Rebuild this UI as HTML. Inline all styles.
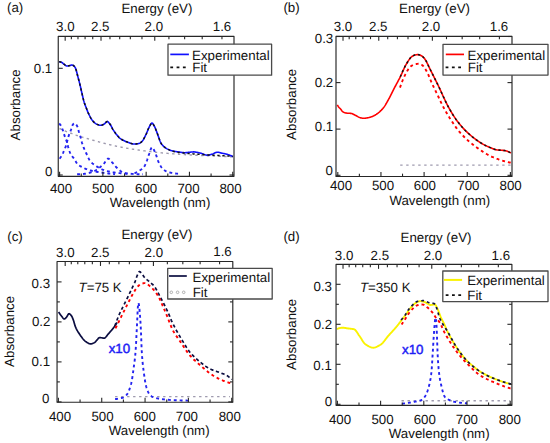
<!DOCTYPE html>
<html><head><meta charset="utf-8"><style>
html,body{margin:0;padding:0;background:#fff;width:550px;height:443px;overflow:hidden;position:relative}
</style></head><body>
<svg width="550" height="443" viewBox="0 0 550 443" style="position:absolute;left:0;top:0">
<g font-family='"Liberation Sans", sans-serif' stroke-linejoin="round" text-rendering="geometricPrecision">
<path d="M 59.50,128.50 L 60.00,128.75 L 60.50,128.99 L 61.00,129.23 L 61.50,129.46 L 62.00,129.69 L 62.50,129.92 L 63.00,130.15 L 63.50,130.37 L 64.00,130.59 L 64.50,130.80 L 65.00,131.01 L 65.50,131.22 L 66.00,131.42 L 66.50,131.62 L 67.00,131.81 L 67.50,132.00 L 68.00,132.18 L 68.50,132.36 L 69.00,132.54 L 69.50,132.71 L 70.00,132.89 L 70.50,133.06 L 71.00,133.24 L 71.50,133.42 L 72.00,133.60 L 72.50,133.79 L 73.00,133.98 L 73.50,134.18 L 74.00,134.37 L 74.50,134.57 L 75.00,134.77 L 75.50,134.96 L 76.00,135.16 L 76.50,135.34 L 77.00,135.52 L 77.50,135.70 L 78.00,135.87 L 78.50,136.03 L 79.00,136.18 L 79.50,136.33 L 80.00,136.48 L 80.50,136.62 L 81.00,136.76 L 81.50,136.90 L 82.00,137.05 L 82.50,137.19 L 83.00,137.33 L 83.50,137.47 L 84.00,137.62 L 84.50,137.76 L 85.00,137.91 L 85.50,138.05 L 86.00,138.19 L 86.50,138.34 L 87.00,138.48 L 87.50,138.62 L 88.00,138.77 L 88.50,138.91 L 89.00,139.06 L 89.50,139.20 L 90.00,139.34 L 90.50,139.49 L 91.00,139.63 L 91.50,139.78 L 92.00,139.92 L 92.50,140.07 L 93.00,140.21 L 93.50,140.36 L 94.00,140.50 L 94.50,140.64 L 95.00,140.79 L 95.50,140.93 L 96.00,141.07 L 96.50,141.21 L 97.00,141.35 L 97.50,141.49 L 98.00,141.63 L 98.50,141.77 L 99.00,141.91 L 99.50,142.05 L 100.00,142.18 L 100.50,142.32 L 101.00,142.45 L 101.50,142.59 L 102.00,142.72 L 102.50,142.85 L 103.00,142.98 L 103.50,143.11 L 104.00,143.24 L 104.50,143.37 L 105.00,143.50 L 105.50,143.63 L 106.00,143.75 L 106.50,143.88 L 107.00,144.00 L 107.50,144.12 L 108.00,144.24 L 108.50,144.36 L 109.00,144.48 L 109.50,144.60 L 110.00,144.72 L 110.50,144.84 L 111.00,144.95 L 111.50,145.07 L 112.00,145.18 L 112.50,145.30 L 113.00,145.42 L 113.50,145.53 L 114.00,145.65 L 114.50,145.76 L 115.00,145.88 L 115.50,145.99 L 116.00,146.10 L 116.50,146.21 L 117.00,146.32 L 117.50,146.43 L 118.00,146.54 L 118.50,146.64 L 119.00,146.74 L 119.50,146.84 L 120.00,146.94 L 120.50,147.03 L 121.00,147.13 L 121.50,147.22 L 122.00,147.31 L 122.50,147.41 L 123.00,147.50 L 123.50,147.59 L 124.00,147.68 L 124.50,147.77 L 125.00,147.87 L 125.50,147.96 L 126.00,148.05 L 126.50,148.14 L 127.00,148.23 L 127.50,148.32 L 128.00,148.41 L 128.50,148.50 L 129.00,148.58 L 129.50,148.67 L 130.00,148.75 L 130.50,148.83 L 131.00,148.91 L 131.50,148.99 L 132.00,149.07 L 132.50,149.15 L 133.00,149.23 L 133.50,149.30 L 134.00,149.38 L 134.50,149.46 L 135.00,149.53 L 135.50,149.61 L 136.00,149.68 L 136.50,149.75 L 137.00,149.83 L 137.50,149.90 L 138.00,149.97 L 138.50,150.04 L 139.00,150.11 L 139.50,150.18 L 140.00,150.25 L 140.50,150.32 L 141.00,150.39 L 141.50,150.46 L 142.00,150.53 L 142.50,150.60 L 143.00,150.66 L 143.50,150.73 L 144.00,150.79 L 144.50,150.86 L 145.00,150.92 L 145.50,150.99 L 146.00,151.05 L 146.50,151.11 L 147.00,151.18 L 147.50,151.24 L 148.00,151.30 L 148.50,151.36 L 149.00,151.42 L 149.50,151.49 L 150.00,151.55 L 150.50,151.61 L 151.00,151.67 L 151.50,151.73 L 152.00,151.79 L 152.50,151.86 L 153.00,151.92 L 153.50,151.98 L 154.00,152.04 L 154.50,152.10 L 155.00,152.15 L 155.50,152.21 L 156.00,152.27 L 156.50,152.33 L 157.00,152.38 L 157.50,152.44 L 158.00,152.49 L 158.50,152.55 L 159.00,152.60 L 159.50,152.65 L 160.00,152.70 L 160.50,152.75 L 161.00,152.80 L 161.50,152.84 L 162.00,152.89 L 162.50,152.94 L 163.00,152.98 L 163.50,153.02 L 164.00,153.07 L 164.50,153.11 L 165.00,153.15 L 165.50,153.19 L 166.00,153.24 L 166.50,153.28 L 167.00,153.32 L 167.50,153.36 L 168.00,153.40 L 168.50,153.44 L 169.00,153.48 L 169.50,153.52 L 170.00,153.57 L 170.50,153.61 L 171.00,153.65 L 171.50,153.69 L 172.00,153.73 L 172.50,153.78 L 173.00,153.82 L 173.50,153.87 L 174.00,153.91 L 174.50,153.96 L 175.00,154.00 L 175.50,154.04 L 176.00,154.09 L 176.50,154.13 L 177.00,154.16 L 177.50,154.20 L 178.00,154.23 L 178.50,154.27 L 179.00,154.30 L 179.50,154.33 L 180.00,154.36 L 180.50,154.40 L 181.00,154.43 L 181.50,154.46 L 182.00,154.49 L 182.50,154.52 L 183.00,154.55 L 183.50,154.58 L 184.00,154.60 L 184.50,154.63 L 185.00,154.66 L 185.50,154.69 L 186.00,154.71 L 186.50,154.74 L 187.00,154.77 L 187.50,154.79 L 188.00,154.82 L 188.50,154.85 L 189.00,154.87 L 189.50,154.90 L 190.00,154.92 L 190.50,154.95 L 191.00,154.97 L 191.50,155.00 L 192.00,155.02 L 192.50,155.04 L 193.00,155.07 L 193.50,155.09 L 194.00,155.12 L 194.50,155.14 L 195.00,155.16 L 195.50,155.19 L 196.00,155.21 L 196.50,155.23 L 197.00,155.26 L 197.50,155.28 L 198.00,155.31 L 198.50,155.33 L 199.00,155.35 L 199.50,155.38 L 200.00,155.40 L 200.50,155.42 L 201.00,155.45 L 201.50,155.47 L 202.00,155.49 L 202.50,155.52 L 203.00,155.54 L 203.50,155.57 L 204.00,155.59 L 204.50,155.61 L 205.00,155.63 L 205.50,155.66 L 206.00,155.68 L 206.50,155.70 L 207.00,155.73 L 207.50,155.75 L 208.00,155.77 L 208.50,155.80 L 209.00,155.82 L 209.50,155.84 L 210.00,155.86 L 210.50,155.89 L 211.00,155.91 L 211.50,155.93 L 212.00,155.95 L 212.50,155.97 L 213.00,156.00 L 213.50,156.02 L 214.00,156.04 L 214.50,156.06 L 215.00,156.08 L 215.50,156.11 L 216.00,156.13 L 216.50,156.15 L 217.00,156.17 L 217.50,156.19 L 218.00,156.21 L 218.50,156.23 L 219.00,156.25 L 219.50,156.27 L 220.00,156.30 L 220.50,156.32 L 221.00,156.34 L 221.50,156.36 L 222.00,156.38 L 222.50,156.40 L 223.00,156.42 L 223.50,156.44 L 224.00,156.46 L 224.50,156.48 L 225.00,156.50 L 225.50,156.52 L 226.00,156.54 L 226.50,156.56 L 227.00,156.58 L 227.50,156.60 L 228.00,156.61 L 228.50,156.63 L 229.00,156.65 L 229.50,156.67 L 230.00,156.69 L 230.50,156.71 L 231.00,156.73 L 231.50,156.75 L 232.00,156.76 L 232.50,156.78 L 233.00,156.80" fill="none" stroke="#9e9aae" stroke-width="1.4" stroke-dasharray="2.4 3.4"/>
<path d="M 59.20,123.50 L 59.70,123.99 L 60.20,124.61 L 60.70,125.38 L 61.20,126.31 L 61.70,127.40 L 62.20,128.60 L 62.70,129.87 L 63.20,131.26 L 63.70,132.90 L 64.20,134.61 L 64.70,136.20 L 65.20,137.55 L 65.70,138.78 L 66.20,140.02 L 66.70,141.39 L 67.20,143.06 L 67.70,145.10 L 68.20,147.10 L 68.70,148.77 L 69.20,150.32 L 69.70,151.77 L 70.20,153.04 L 70.70,154.10 L 71.20,154.96 L 71.70,155.70 L 72.20,156.35 L 72.70,156.96 L 73.20,157.54 L 73.70,158.15 L 74.20,158.81 L 74.70,159.57 L 75.20,160.43 L 75.70,161.35 L 76.20,162.25 L 76.70,163.08 L 77.20,163.78 L 77.70,164.29 L 78.20,164.72 L 78.70,165.11 L 79.20,165.46 L 79.70,165.79 L 80.20,166.08 L 80.70,166.36 L 81.20,166.63 L 81.70,166.89 L 82.20,167.14 L 82.70,167.40 L 83.20,167.66 L 83.70,167.91 L 84.20,168.15 L 84.70,168.38 L 85.20,168.61 L 85.70,168.82 L 86.20,169.03 L 86.70,169.23 L 87.20,169.42 L 87.70,169.60 L 88.20,169.77 L 88.70,169.93 L 89.20,170.08 L 89.70,170.23 L 90.20,170.38 L 90.70,170.52 L 91.20,170.65 L 91.70,170.78 L 92.20,170.91 L 92.70,171.03 L 93.20,171.14 L 93.70,171.25 L 94.20,171.36 L 94.70,171.46 L 95.20,171.56 L 95.70,171.65 L 96.20,171.73 L 96.70,171.82 L 97.20,171.90 L 97.70,171.98 L 98.20,172.06 L 98.70,172.13 L 99.20,172.21 L 99.70,172.28 L 100.20,172.36 L 100.70,172.44 L 101.20,172.51 L 101.70,172.58 L 102.20,172.66 L 102.70,172.73 L 103.20,172.80 L 103.70,172.87 L 104.20,172.94 L 104.70,173.00 L 105.20,173.07 L 105.70,173.14 L 106.20,173.20 L 106.70,173.26 L 107.20,173.33 L 107.70,173.39 L 108.20,173.45 L 108.70,173.51 L 109.20,173.57 L 109.70,173.63 L 110.20,173.69 L 110.70,173.74 L 111.20,173.80 L 111.70,173.86 L 112.20,173.91 L 112.70,173.96 L 113.20,174.02 L 113.70,174.07 L 114.20,174.12 L 114.70,174.17 L 115.00,174.20" fill="none" stroke="#2323f0" stroke-width="1.9" stroke-dasharray="2.9 3.0"/>
<path d="M 59.50,158.60 L 60.00,158.11 L 60.50,157.50 L 61.00,156.79 L 61.50,155.99 L 62.00,155.10 L 62.50,154.12 L 63.00,153.08 L 63.50,151.97 L 64.00,150.82 L 64.50,149.61 L 65.00,148.37 L 65.50,147.10 L 66.00,145.64 L 66.50,143.91 L 67.00,142.01 L 67.50,140.06 L 68.00,138.16 L 68.50,136.42 L 69.00,134.93 L 69.50,133.58 L 70.00,132.30 L 70.50,131.03 L 71.00,129.73 L 71.50,128.23 L 72.00,126.66 L 72.50,125.27 L 73.00,124.32 L 73.50,123.80 L 74.00,123.40 L 74.50,123.21 L 75.00,123.30 L 75.50,123.67 L 76.00,124.26 L 76.50,125.00 L 77.00,125.83 L 77.50,126.92 L 78.00,128.56 L 78.50,130.41 L 79.00,132.12 L 79.50,133.69 L 80.00,135.26 L 80.50,136.90 L 81.00,138.74 L 81.50,140.83 L 82.00,142.82 L 82.50,144.42 L 83.00,145.83 L 83.50,147.11 L 84.00,148.32 L 84.50,149.50 L 85.00,150.62 L 85.50,151.69 L 86.00,152.73 L 86.50,153.76 L 87.00,154.79 L 87.50,155.86 L 88.00,156.99 L 88.50,158.11 L 89.00,159.15 L 89.50,160.05 L 90.00,160.77 L 90.50,161.38 L 91.00,161.95 L 91.50,162.46 L 92.00,162.93 L 92.50,163.37 L 93.00,163.79 L 93.50,164.19 L 94.00,164.58 L 94.50,164.95 L 95.00,165.32 L 95.50,165.66 L 96.00,165.99 L 96.50,166.31 L 97.00,166.62 L 97.50,166.92 L 98.00,167.20 L 98.50,167.48 L 99.00,167.75 L 99.50,168.02 L 100.00,168.29 L 100.50,168.55 L 101.00,168.81 L 101.50,169.06 L 102.00,169.31 L 102.50,169.54 L 103.00,169.76 L 103.50,169.97 L 104.00,170.16 L 104.50,170.34 L 105.00,170.50 L 105.50,170.65 L 106.00,170.79 L 106.50,170.93 L 107.00,171.06 L 107.50,171.19 L 108.00,171.32 L 108.50,171.44 L 109.00,171.55 L 109.50,171.66 L 110.00,171.77 L 110.50,171.88 L 111.00,171.97 L 111.50,172.07 L 112.00,172.16 L 112.50,172.24 L 113.00,172.32 L 113.50,172.40 L 114.00,172.47 L 114.50,172.54 L 115.00,172.60 L 115.50,172.66 L 116.00,172.72 L 116.50,172.78 L 117.00,172.84 L 117.50,172.90 L 118.00,172.95 L 118.50,173.01 L 119.00,173.07 L 119.50,173.12 L 120.00,173.17 L 120.50,173.23 L 121.00,173.28 L 121.50,173.33 L 122.00,173.37 L 122.50,173.42 L 123.00,173.46 L 123.50,173.51 L 124.00,173.55 L 124.50,173.58 L 125.00,173.62 L 125.50,173.65 L 126.00,173.68 L 126.50,173.71 L 127.00,173.73 L 127.50,173.75 L 128.00,173.77 L 128.50,173.78 L 129.00,173.79 L 129.50,173.80 L 130.00,173.80" fill="none" stroke="#2323f0" stroke-width="1.9" stroke-dasharray="2.9 3.0"/>
<path d="M 77.10,174.30 L 77.60,174.30 L 78.10,174.29 L 78.60,174.27 L 79.10,174.25 L 79.60,174.22 L 80.10,174.19 L 80.60,174.15 L 81.10,174.11 L 81.60,174.07 L 82.10,174.03 L 82.60,173.98 L 83.10,173.94 L 83.60,173.89 L 84.10,173.84 L 84.60,173.77 L 85.10,173.70 L 85.60,173.62 L 86.10,173.53 L 86.60,173.44 L 87.10,173.34 L 87.60,173.23 L 88.10,173.12 L 88.60,173.00 L 89.10,172.88 L 89.60,172.75 L 90.10,172.62 L 90.60,172.48 L 91.10,172.32 L 91.60,172.15 L 92.10,171.97 L 92.60,171.78 L 93.10,171.57 L 93.60,171.36 L 94.10,171.13 L 94.60,170.90 L 95.10,170.65 L 95.60,170.37 L 96.10,170.07 L 96.60,169.75 L 97.10,169.41 L 97.60,169.05 L 98.10,168.69 L 98.60,168.31 L 99.10,167.93 L 99.60,167.55 L 100.10,167.15 L 100.60,166.75 L 101.10,166.33 L 101.60,165.89 L 102.10,165.44 L 102.60,164.98 L 103.10,164.50 L 103.60,164.00 L 104.10,163.44 L 104.60,162.75 L 105.10,161.97 L 105.60,161.16 L 106.10,160.38 L 106.60,159.68 L 107.10,159.12 L 107.60,158.74 L 108.10,158.60 L 108.60,158.70 L 109.10,158.97 L 109.60,159.38 L 110.10,159.90 L 110.60,160.49 L 111.10,161.12 L 111.60,161.75 L 112.10,162.36 L 112.60,162.90 L 113.10,163.45 L 113.60,164.04 L 114.10,164.64 L 114.60,165.25 L 115.10,165.85 L 115.60,166.44 L 116.10,166.99 L 116.60,167.51 L 117.10,167.98 L 117.60,168.45 L 118.10,168.92 L 118.60,169.38 L 119.10,169.83 L 119.60,170.25 L 120.10,170.66 L 120.60,171.03 L 121.10,171.37 L 121.60,171.66 L 122.10,171.91 L 122.60,172.12 L 123.10,172.32 L 123.60,172.50 L 124.10,172.68 L 124.60,172.84 L 125.10,172.99 L 125.60,173.12 L 126.10,173.24 L 126.60,173.34 L 127.10,173.43 L 127.60,173.49 L 128.10,173.54 L 128.60,173.59 L 129.10,173.63 L 129.60,173.68 L 130.10,173.72 L 130.60,173.76 L 131.10,173.80 L 131.60,173.84 L 132.10,173.88 L 132.60,173.92 L 133.10,173.95 L 133.60,173.99 L 134.10,174.02 L 134.60,174.05 L 135.10,174.08 L 135.60,174.10 L 136.10,174.13 L 136.60,174.15 L 137.10,174.17 L 137.60,174.19 L 138.10,174.21 L 138.60,174.23 L 139.10,174.24 L 139.60,174.26 L 140.10,174.27 L 140.60,174.28 L 141.10,174.29 L 141.60,174.29 L 142.10,174.30 L 142.60,174.30 L 143.00,174.30" fill="none" stroke="#2323f0" stroke-width="1.9" stroke-dasharray="2.9 3.0"/>
<path d="M 134.40,173.20 L 134.90,173.02 L 135.40,172.83 L 135.90,172.61 L 136.40,172.38 L 136.90,172.12 L 137.40,171.86 L 137.90,171.58 L 138.40,171.28 L 138.90,170.97 L 139.40,170.66 L 139.90,170.33 L 140.40,170.01 L 140.90,169.67 L 141.40,169.31 L 141.90,168.93 L 142.40,168.51 L 142.90,168.05 L 143.40,167.54 L 143.90,166.97 L 144.40,166.32 L 144.90,165.45 L 145.40,164.38 L 145.90,163.17 L 146.40,161.89 L 146.90,160.60 L 147.40,159.21 L 147.90,157.67 L 148.40,156.11 L 148.90,154.64 L 149.40,153.28 L 149.90,151.80 L 150.40,150.30 L 150.90,148.95 L 151.40,147.91 L 151.90,147.35 L 152.40,147.39 L 152.90,147.88 L 153.40,148.71 L 153.90,149.76 L 154.40,150.92 L 154.90,152.07 L 155.40,153.17 L 155.90,154.46 L 156.40,155.89 L 156.90,157.39 L 157.40,158.91 L 157.90,160.36 L 158.40,161.68 L 158.90,162.80 L 159.40,163.79 L 159.90,164.74 L 160.40,165.64 L 160.90,166.49 L 161.40,167.25 L 161.90,167.93 L 162.40,168.51 L 162.90,168.98 L 163.40,169.40 L 163.90,169.81 L 164.40,170.18 L 164.90,170.54 L 165.40,170.86 L 165.90,171.15 L 166.40,171.42 L 166.90,171.65 L 167.40,171.85 L 167.90,172.02 L 168.40,172.15 L 168.90,172.27 L 169.40,172.39 L 169.90,172.51 L 170.40,172.62 L 170.90,172.73 L 171.40,172.84 L 171.90,172.94 L 172.40,173.03 L 172.90,173.12 L 173.40,173.20 L 173.90,173.28 L 174.40,173.36 L 174.90,173.42 L 175.40,173.48 L 175.90,173.53 L 176.40,173.58 L 176.90,173.62 L 177.40,173.65 L 177.90,173.68 L 178.40,173.69 L 178.90,173.70 L 179.10,173.70" fill="none" stroke="#2323f0" stroke-width="1.9" stroke-dasharray="2.9 3.0"/>
<path d="M 59.20,61.80 L 59.70,61.83 L 60.20,61.92 L 60.70,62.05 L 61.20,62.20 L 61.70,62.38 L 62.20,62.69 L 62.70,63.10 L 63.20,63.55 L 63.70,63.98 L 64.20,64.34 L 64.70,64.73 L 65.20,65.12 L 65.70,65.49 L 66.20,65.79 L 66.70,65.97 L 67.20,66.00 L 67.70,65.95 L 68.20,65.87 L 68.70,65.77 L 69.20,65.66 L 69.70,65.56 L 70.20,65.41 L 70.70,65.24 L 71.20,65.10 L 71.70,65.01 L 72.20,65.03 L 72.70,65.19 L 73.20,65.45 L 73.70,65.78 L 74.20,66.17 L 74.70,66.79 L 75.20,67.62 L 75.70,68.65 L 76.20,70.14 L 76.70,72.00 L 77.20,74.03 L 77.70,76.04 L 78.20,77.91 L 78.70,79.76 L 79.20,81.65 L 79.70,83.59 L 80.20,85.63 L 80.70,87.80 L 81.20,90.05 L 81.70,92.28 L 82.20,94.42 L 82.70,96.55 L 83.20,98.66 L 83.70,100.65 L 84.20,102.40 L 84.70,103.89 L 85.20,105.21 L 85.70,106.48 L 86.20,107.79 L 86.70,109.10 L 87.20,110.39 L 87.70,111.65 L 88.20,112.83 L 88.70,113.93 L 89.20,114.99 L 89.70,116.00 L 90.20,116.97 L 90.70,117.87 L 91.20,118.70 L 91.70,119.44 L 92.20,120.14 L 92.70,120.79 L 93.20,121.38 L 93.70,121.91 L 94.20,122.38 L 94.70,122.81 L 95.20,123.22 L 95.70,123.58 L 96.20,123.90 L 96.70,124.16 L 97.20,124.37 L 97.70,124.58 L 98.20,124.77 L 98.70,124.95 L 99.20,125.10 L 99.70,125.21 L 100.20,125.28 L 100.70,125.30 L 101.20,125.25 L 101.70,125.14 L 102.20,124.99 L 102.70,124.79 L 103.20,124.57 L 103.70,124.34 L 104.20,124.09 L 104.70,123.67 L 105.20,123.13 L 105.70,122.55 L 106.20,122.03 L 106.70,121.65 L 107.20,121.50 L 107.70,121.64 L 108.20,122.00 L 108.70,122.53 L 109.20,123.16 L 109.70,123.82 L 110.20,124.46 L 110.70,125.24 L 111.20,126.15 L 111.70,127.12 L 112.20,128.11 L 112.70,129.05 L 113.20,129.90 L 113.70,130.67 L 114.20,131.42 L 114.70,132.14 L 115.20,132.83 L 115.70,133.50 L 116.20,134.13 L 116.70,134.74 L 117.20,135.34 L 117.70,135.94 L 118.20,136.52 L 118.70,137.07 L 119.20,137.58 L 119.70,138.04 L 120.20,138.45 L 120.70,138.81 L 121.20,139.14 L 121.70,139.45 L 122.20,139.75 L 122.70,140.03 L 123.20,140.30 L 123.70,140.55 L 124.20,140.79 L 124.70,141.02 L 125.20,141.24 L 125.70,141.45 L 126.20,141.65 L 126.70,141.84 L 127.20,142.03 L 127.70,142.21 L 128.20,142.40 L 128.70,142.59 L 129.20,142.78 L 129.70,142.97 L 130.20,143.15 L 130.70,143.32 L 131.20,143.48 L 131.70,143.63 L 132.20,143.75 L 132.70,143.86 L 133.20,143.93 L 133.70,143.98 L 134.20,144.00 L 134.70,143.99 L 135.20,143.97 L 135.70,143.94 L 136.20,143.90 L 136.70,143.85 L 137.20,143.79 L 137.70,143.72 L 138.20,143.65 L 138.70,143.56 L 139.20,143.40 L 139.70,143.16 L 140.20,142.86 L 140.70,142.51 L 141.20,142.11 L 141.70,141.69 L 142.20,141.20 L 142.70,140.57 L 143.20,139.82 L 143.70,138.97 L 144.20,138.04 L 144.70,137.06 L 145.20,136.04 L 145.70,135.01 L 146.20,134.00 L 146.70,132.91 L 147.20,131.69 L 147.70,130.43 L 148.20,129.20 L 148.70,128.08 L 149.20,127.13 L 149.70,126.15 L 150.20,125.17 L 150.70,124.29 L 151.20,123.59 L 151.70,123.17 L 152.20,123.14 L 152.70,123.50 L 153.20,124.17 L 153.70,125.03 L 154.20,125.96 L 154.70,126.87 L 155.20,127.95 L 155.70,129.20 L 156.20,130.53 L 156.70,131.87 L 157.20,133.15 L 157.70,134.49 L 158.20,135.91 L 158.70,137.38 L 159.20,138.83 L 159.70,140.21 L 160.20,141.49 L 160.70,142.61 L 161.20,143.51 L 161.70,144.19 L 162.20,144.81 L 162.70,145.38 L 163.20,145.90 L 163.70,146.39 L 164.20,146.83 L 164.70,147.24 L 165.20,147.62 L 165.70,147.97 L 166.20,148.29 L 166.70,148.59 L 167.20,148.87 L 167.70,149.13 L 168.20,149.38 L 168.70,149.62 L 169.20,149.84 L 169.70,150.05 L 170.20,150.24 L 170.70,150.42 L 171.20,150.58 L 171.70,150.72 L 172.20,150.85 L 172.70,150.97 L 173.20,151.08 L 173.70,151.18 L 174.20,151.28 L 174.70,151.37 L 175.20,151.45 L 175.70,151.53 L 176.20,151.61 L 176.70,151.69 L 177.20,151.76 L 177.70,151.83 L 178.20,151.90 L 178.70,151.97 L 179.20,152.04 L 179.70,152.12 L 180.20,152.20 L 180.70,152.28 L 181.20,152.36 L 181.70,152.43 L 182.20,152.50 L 182.70,152.56 L 183.20,152.62 L 183.70,152.66 L 184.20,152.69 L 184.70,152.70 L 185.20,152.69 L 185.70,152.67 L 186.20,152.64 L 186.70,152.59 L 187.20,152.53 L 187.70,152.47 L 188.20,152.41 L 188.70,152.34 L 189.20,152.28 L 189.70,152.23 L 190.20,152.18 L 190.70,152.13 L 191.20,152.07 L 191.70,152.02 L 192.20,151.97 L 192.70,151.93 L 193.20,151.90 L 193.70,151.90 L 194.20,151.92 L 194.70,151.96 L 195.20,152.02 L 195.70,152.09 L 196.20,152.17 L 196.70,152.27 L 197.20,152.37 L 197.70,152.48 L 198.20,152.60 L 198.70,152.71 L 199.20,152.82 L 199.70,152.94 L 200.20,153.04 L 200.70,153.17 L 201.20,153.32 L 201.70,153.49 L 202.20,153.67 L 202.70,153.86 L 203.20,154.05 L 203.70,154.25 L 204.20,154.43 L 204.70,154.61 L 205.20,154.77 L 205.70,154.91 L 206.20,155.03 L 206.70,155.12 L 207.20,155.18 L 207.70,155.20 L 208.20,155.18 L 208.70,155.11 L 209.20,155.02 L 209.70,154.89 L 210.20,154.75 L 210.70,154.60 L 211.20,154.44 L 211.70,154.29 L 212.20,154.14 L 212.70,153.96 L 213.20,153.75 L 213.70,153.52 L 214.20,153.27 L 214.70,153.03 L 215.20,152.80 L 215.70,152.59 L 216.20,152.42 L 216.70,152.29 L 217.20,152.21 L 217.70,152.20 L 218.20,152.25 L 218.70,152.32 L 219.20,152.43 L 219.70,152.56 L 220.20,152.71 L 220.70,152.86 L 221.20,153.00 L 221.70,153.13 L 222.20,153.24 L 222.70,153.34 L 223.20,153.44 L 223.70,153.54 L 224.20,153.63 L 224.70,153.73 L 225.20,153.84 L 225.70,153.95 L 226.20,154.07 L 226.70,154.21 L 227.20,154.35 L 227.70,154.50 L 228.20,154.66 L 228.70,154.83 L 229.20,155.01 L 229.70,155.19 L 230.20,155.39 L 230.70,155.59 L 231.20,155.79 L 231.70,156.01 L 232.20,156.23 L 232.70,156.46 L 233.00,156.60" fill="none" stroke="#1010ff" stroke-width="1.6"/>
<path d="M 59.20,61.80 L 59.70,61.83 L 60.20,61.92 L 60.70,62.05 L 61.20,62.20 L 61.70,62.38 L 62.20,62.69 L 62.70,63.10 L 63.20,63.55 L 63.70,63.98 L 64.20,64.34 L 64.70,64.73 L 65.20,65.12 L 65.70,65.49 L 66.20,65.79 L 66.70,65.97 L 67.20,66.00 L 67.70,65.95 L 68.20,65.87 L 68.70,65.77 L 69.20,65.66 L 69.70,65.56 L 70.20,65.41 L 70.70,65.24 L 71.20,65.10 L 71.70,65.01 L 72.20,65.03 L 72.70,65.19 L 73.20,65.45 L 73.70,65.78 L 74.20,66.17 L 74.70,66.79 L 75.20,67.62 L 75.70,68.65 L 76.20,70.14 L 76.70,72.00 L 77.20,74.03 L 77.70,76.04 L 78.20,77.91 L 78.70,79.76 L 79.20,81.65 L 79.70,83.59 L 80.20,85.63 L 80.70,87.80 L 81.20,90.05 L 81.70,92.28 L 82.20,94.42 L 82.70,96.55 L 83.20,98.66 L 83.70,100.65 L 84.20,102.40 L 84.70,103.89 L 85.20,105.21 L 85.70,106.48 L 86.20,107.79 L 86.70,109.10 L 87.20,110.39 L 87.70,111.65 L 88.20,112.83 L 88.70,113.93 L 89.20,114.99 L 89.70,116.00 L 90.20,116.97 L 90.70,117.87 L 91.20,118.70 L 91.70,119.44 L 92.20,120.14 L 92.70,120.79 L 93.20,121.38 L 93.70,121.91 L 94.20,122.38 L 94.70,122.81 L 95.20,123.22 L 95.70,123.58 L 96.20,123.90 L 96.70,124.16 L 97.20,124.37 L 97.70,124.58 L 98.20,124.77 L 98.70,124.95 L 99.20,125.10 L 99.70,125.21 L 100.20,125.28 L 100.70,125.30 L 101.20,125.25 L 101.70,125.14 L 102.20,124.99 L 102.70,124.79 L 103.20,124.57 L 103.70,124.34 L 104.20,124.09 L 104.70,123.67 L 105.20,123.13 L 105.70,122.55 L 106.20,122.03 L 106.70,121.65 L 107.20,121.50 L 107.70,121.64 L 108.20,122.00 L 108.70,122.53 L 109.20,123.16 L 109.70,123.82 L 110.20,124.46 L 110.70,125.24 L 111.20,126.15 L 111.70,127.12 L 112.20,128.11 L 112.70,129.05 L 113.20,129.90 L 113.70,130.67 L 114.20,131.42 L 114.70,132.14 L 115.20,132.83 L 115.70,133.50 L 116.20,134.13 L 116.70,134.74 L 117.20,135.34 L 117.70,135.94 L 118.20,136.52 L 118.70,137.07 L 119.20,137.58 L 119.70,138.04 L 120.20,138.45 L 120.70,138.81 L 121.20,139.14 L 121.70,139.45 L 122.20,139.75 L 122.70,140.03 L 123.20,140.30 L 123.70,140.55 L 124.20,140.79 L 124.70,141.02 L 125.20,141.24 L 125.70,141.45 L 126.20,141.65 L 126.70,141.84 L 127.20,142.03 L 127.70,142.21 L 128.20,142.40 L 128.70,142.59 L 129.20,142.78 L 129.70,142.97 L 130.20,143.15 L 130.70,143.32 L 131.20,143.48 L 131.70,143.63 L 132.20,143.75 L 132.70,143.86 L 133.20,143.93 L 133.70,143.98 L 134.20,144.00 L 134.70,143.99 L 135.20,143.97 L 135.70,143.94 L 136.20,143.90 L 136.70,143.85 L 137.20,143.79 L 137.70,143.72 L 138.20,143.65 L 138.70,143.56 L 139.20,143.40 L 139.70,143.16 L 140.20,142.86 L 140.70,142.51 L 141.20,142.11 L 141.70,141.69 L 142.20,141.20 L 142.70,140.57 L 143.20,139.82 L 143.70,138.97 L 144.20,138.04 L 144.70,137.06 L 145.20,136.04 L 145.70,135.01 L 146.20,134.00 L 146.70,132.91 L 147.20,131.69 L 147.70,130.43 L 148.20,129.20 L 148.70,128.08 L 149.20,127.13 L 149.70,126.15 L 150.20,125.17 L 150.70,124.29 L 151.20,123.59 L 151.70,123.17 L 152.20,123.14 L 152.70,123.50 L 153.20,124.17 L 153.70,125.03 L 154.20,125.96 L 154.70,126.87 L 155.20,127.95 L 155.70,129.20 L 156.20,130.53 L 156.70,131.87 L 157.20,133.15 L 157.70,134.49 L 158.20,135.91 L 158.70,137.38 L 159.20,138.83 L 159.70,140.21 L 160.20,141.49 L 160.70,142.61 L 161.20,143.51 L 161.70,144.19 L 162.20,144.81 L 162.70,145.37 L 163.20,145.89 L 163.70,146.37 L 164.20,146.81 L 164.70,147.21 L 165.20,147.59 L 165.70,147.94 L 166.20,148.27 L 166.70,148.58 L 167.20,148.88 L 167.70,149.16 L 168.20,149.43 L 168.70,149.68 L 169.20,149.92 L 169.70,150.15 L 170.20,150.36 L 170.70,150.56 L 171.20,150.74 L 171.70,150.91 L 172.20,151.06 L 172.70,151.20 L 173.20,151.34 L 173.70,151.47 L 174.20,151.60 L 174.70,151.72 L 175.20,151.83 L 175.70,151.94 L 176.20,152.04 L 176.70,152.14 L 177.20,152.23 L 177.70,152.32 L 178.20,152.40 L 178.70,152.47 L 179.20,152.54 L 179.70,152.61 L 180.20,152.67 L 180.70,152.73 L 181.20,152.79 L 181.70,152.85 L 182.20,152.90 L 182.70,152.95 L 183.20,153.00 L 183.70,153.05 L 184.20,153.10 L 184.70,153.14 L 185.20,153.19 L 185.70,153.23 L 186.20,153.28 L 186.70,153.32 L 187.20,153.36 L 187.70,153.40 L 188.20,153.45 L 188.70,153.49 L 189.20,153.53 L 189.70,153.57 L 190.20,153.62 L 190.70,153.66 L 191.20,153.71 L 191.70,153.75 L 192.20,153.79 L 192.70,153.83 L 193.20,153.88 L 193.70,153.92 L 194.20,153.96 L 194.70,154.00 L 195.20,154.04 L 195.70,154.08 L 196.20,154.12 L 196.70,154.16 L 197.20,154.20 L 197.70,154.23 L 198.20,154.27 L 198.70,154.31 L 199.20,154.34 L 199.70,154.38 L 200.20,154.41 L 200.70,154.45 L 201.20,154.48 L 201.70,154.51 L 202.20,154.55 L 202.70,154.58 L 203.20,154.61 L 203.70,154.64 L 204.20,154.67 L 204.70,154.70 L 205.20,154.73 L 205.70,154.76 L 206.20,154.79 L 206.70,154.82 L 207.20,154.84 L 207.70,154.87 L 208.20,154.90 L 208.70,154.93 L 209.20,154.96 L 209.70,154.98 L 210.20,155.01 L 210.70,155.04 L 211.20,155.06 L 211.70,155.09 L 212.20,155.11 L 212.70,155.14 L 213.20,155.16 L 213.70,155.19 L 214.20,155.21 L 214.70,155.23 L 215.20,155.26 L 215.70,155.28 L 216.20,155.30 L 216.70,155.33 L 217.20,155.35 L 217.70,155.38 L 218.20,155.40 L 218.70,155.43 L 219.20,155.46 L 219.70,155.48 L 220.20,155.51 L 220.70,155.54 L 221.20,155.57 L 221.70,155.60 L 222.20,155.63 L 222.70,155.66 L 223.20,155.69 L 223.70,155.73 L 224.20,155.76 L 224.70,155.79 L 225.20,155.82 L 225.70,155.86 L 226.20,155.89 L 226.70,155.93 L 227.20,155.96 L 227.70,156.00 L 228.20,156.03 L 228.70,156.07 L 229.20,156.11 L 229.70,156.14 L 230.20,156.18 L 230.70,156.22 L 231.20,156.26 L 231.70,156.30 L 232.20,156.34 L 232.70,156.38 L 233.00,156.40" fill="none" stroke="#111" stroke-width="1.5" stroke-dasharray="2.3 2.7"/>
<line x1="400.2" y1="165.1" x2="511" y2="165.1" stroke="#9e9aae" stroke-width="1.4" stroke-dasharray="2.4 3.6"/>
<path d="M 337.30,104.80 L 337.80,105.70 L 338.30,106.51 L 338.80,107.20 L 339.30,107.75 L 339.80,108.22 L 340.30,108.68 L 340.80,109.22 L 341.30,109.93 L 341.80,110.69 L 342.30,111.34 L 342.80,111.72 L 343.30,112.01 L 343.80,112.27 L 344.30,112.50 L 344.80,112.70 L 345.30,112.86 L 345.80,112.98 L 346.30,113.07 L 346.80,113.13 L 347.30,113.18 L 347.80,113.21 L 348.30,113.23 L 348.80,113.25 L 349.30,113.28 L 349.80,113.30 L 350.30,113.34 L 350.80,113.39 L 351.30,113.47 L 351.80,113.60 L 352.30,113.78 L 352.80,113.99 L 353.30,114.24 L 353.80,114.49 L 354.30,114.75 L 354.80,115.01 L 355.30,115.25 L 355.80,115.49 L 356.30,115.75 L 356.80,116.03 L 357.30,116.32 L 357.80,116.61 L 358.30,116.88 L 358.80,117.15 L 359.30,117.38 L 359.80,117.59 L 360.30,117.75 L 360.80,117.87 L 361.30,117.99 L 361.80,118.09 L 362.30,118.18 L 362.80,118.25 L 363.30,118.29 L 363.80,118.30 L 364.30,118.28 L 364.80,118.24 L 365.30,118.18 L 365.80,118.11 L 366.30,118.03 L 366.80,117.94 L 367.30,117.85 L 367.80,117.76 L 368.30,117.66 L 368.80,117.56 L 369.30,117.44 L 369.80,117.30 L 370.30,117.16 L 370.80,117.00 L 371.30,116.83 L 371.80,116.65 L 372.30,116.46 L 372.80,116.26 L 373.30,116.06 L 373.80,115.83 L 374.30,115.58 L 374.80,115.30 L 375.30,115.01 L 375.80,114.69 L 376.30,114.36 L 376.80,114.01 L 377.30,113.65 L 377.80,113.28 L 378.30,112.90 L 378.80,112.50 L 379.30,112.09 L 379.80,111.65 L 380.30,111.18 L 380.80,110.70 L 381.30,110.19 L 381.80,109.66 L 382.30,109.10 L 382.80,108.53 L 383.30,107.92 L 383.80,107.29 L 384.30,106.59 L 384.80,105.85 L 385.30,105.07 L 385.80,104.25 L 386.30,103.40 L 386.80,102.53 L 387.30,101.64 L 387.80,100.75 L 388.30,99.86 L 388.80,98.96 L 389.30,98.03 L 389.80,97.08 L 390.30,96.10 L 390.80,95.11 L 391.30,94.10 L 391.80,93.09 L 392.30,92.07 L 392.80,91.07 L 393.30,90.07 L 393.80,89.09 L 394.30,88.13 L 394.80,87.19 L 395.30,86.25 L 395.80,85.32 L 396.30,84.39 L 396.80,83.47 L 397.30,82.54 L 397.80,81.61 L 398.30,80.67 L 398.80,79.72 L 399.30,78.77 L 399.80,77.79 L 400.30,76.80 L 400.80,75.77 L 401.30,74.70 L 401.80,73.59 L 402.30,72.46 L 402.80,71.32 L 403.30,70.19 L 403.80,69.07 L 404.30,67.99 L 404.80,66.95 L 405.30,65.96 L 405.80,65.04 L 406.30,64.19 L 406.80,63.34 L 407.30,62.50 L 407.80,61.67 L 408.30,60.86 L 408.80,60.09 L 409.30,59.35 L 409.80,58.67 L 410.30,58.05 L 410.80,57.50 L 411.30,57.02 L 411.80,56.63 L 412.30,56.28 L 412.80,55.96 L 413.30,55.67 L 413.80,55.42 L 414.30,55.21 L 414.80,55.05 L 415.30,54.93 L 415.80,54.83 L 416.30,54.74 L 416.80,54.67 L 417.30,54.62 L 417.80,54.60 L 418.30,54.63 L 418.80,54.73 L 419.30,54.87 L 419.80,55.04 L 420.30,55.23 L 420.80,55.42 L 421.30,55.68 L 421.80,56.00 L 422.30,56.36 L 422.80,56.76 L 423.30,57.19 L 423.80,57.70 L 424.30,58.30 L 424.80,58.97 L 425.30,59.70 L 425.80,60.48 L 426.30,61.35 L 426.80,62.31 L 427.30,63.34 L 427.80,64.41 L 428.30,65.50 L 428.80,66.59 L 429.30,67.67 L 429.80,68.70 L 430.30,69.70 L 430.80,70.71 L 431.30,71.70 L 431.80,72.70 L 432.30,73.70 L 432.80,74.70 L 433.30,75.70 L 433.80,76.70 L 434.30,77.70 L 434.80,78.70 L 435.30,79.70 L 435.80,80.69 L 436.30,81.69 L 436.80,82.68 L 437.30,83.69 L 437.80,84.69 L 438.30,85.71 L 438.80,86.73 L 439.30,87.77 L 439.80,88.82 L 440.30,89.90 L 440.80,91.00 L 441.30,92.11 L 441.80,93.23 L 442.30,94.35 L 442.80,95.46 L 443.30,96.56 L 443.80,97.65 L 444.30,98.71 L 444.80,99.77 L 445.30,100.82 L 445.80,101.87 L 446.30,102.90 L 446.80,103.92 L 447.30,104.91 L 447.80,105.87 L 448.30,106.80 L 448.80,107.71 L 449.30,108.60 L 449.80,109.49 L 450.30,110.37 L 450.80,111.23 L 451.30,112.09 L 451.80,112.93 L 452.30,113.76 L 452.80,114.58 L 453.30,115.38 L 453.80,116.16 L 454.30,116.93 L 454.80,117.68 L 455.30,118.42 L 455.80,119.13 L 456.30,119.83 L 456.80,120.50 L 457.30,121.16 L 457.80,121.81 L 458.30,122.45 L 458.80,123.08 L 459.30,123.71 L 459.80,124.32 L 460.30,124.92 L 460.80,125.52 L 461.30,126.10 L 461.80,126.68 L 462.30,127.24 L 462.80,127.80 L 463.30,128.35 L 463.80,128.89 L 464.30,129.42 L 464.80,129.94 L 465.30,130.45 L 465.80,130.95 L 466.30,131.44 L 466.80,131.93 L 467.30,132.40 L 467.80,132.87 L 468.30,133.32 L 468.80,133.77 L 469.30,134.21 L 469.80,134.65 L 470.30,135.08 L 470.80,135.50 L 471.30,135.93 L 471.80,136.34 L 472.30,136.76 L 472.80,137.16 L 473.30,137.56 L 473.80,137.96 L 474.30,138.35 L 474.80,138.74 L 475.30,139.12 L 475.80,139.49 L 476.30,139.86 L 476.80,140.22 L 477.30,140.58 L 477.80,140.93 L 478.30,141.27 L 478.80,141.61 L 479.30,141.94 L 479.80,142.27 L 480.30,142.59 L 480.80,142.90 L 481.30,143.21 L 481.80,143.51 L 482.30,143.80 L 482.80,144.09 L 483.30,144.37 L 483.80,144.64 L 484.30,144.91 L 484.80,145.17 L 485.30,145.42 L 485.80,145.66 L 486.30,145.90 L 486.80,146.14 L 487.30,146.37 L 487.80,146.59 L 488.30,146.80 L 488.80,147.02 L 489.30,147.22 L 489.80,147.42 L 490.30,147.62 L 490.80,147.82 L 491.30,148.03 L 491.80,148.24 L 492.30,148.45 L 492.80,148.66 L 493.30,148.86 L 493.80,149.05 L 494.30,149.23 L 494.80,149.41 L 495.30,149.56 L 495.80,149.70 L 496.30,149.82 L 496.80,149.91 L 497.30,149.98 L 497.80,150.02 L 498.30,150.06 L 498.80,150.09 L 499.30,150.11 L 499.80,150.13 L 500.30,150.16 L 500.80,150.19 L 501.30,150.22 L 501.80,150.26 L 502.30,150.30 L 502.80,150.35 L 503.30,150.40 L 503.80,150.46 L 504.30,150.53 L 504.80,150.60 L 505.30,150.69 L 505.80,150.80 L 506.30,150.94 L 506.80,151.09 L 507.30,151.26 L 507.80,151.45 L 508.30,151.65 L 508.80,151.87 L 509.30,152.11 L 509.80,152.36 L 510.30,152.62 L 510.80,152.89 L 511.00,153.00" fill="none" stroke="#ff0000" stroke-width="1.6"/>
<path d="M 400.30,76.80 L 400.80,75.57 L 401.30,74.37 L 401.80,73.20 L 402.30,72.05 L 402.80,70.94 L 403.30,69.87 L 403.80,68.82 L 404.30,67.82 L 404.80,66.85 L 405.30,65.93 L 405.80,65.04 L 406.30,64.19 L 406.80,63.34 L 407.30,62.50 L 407.80,61.67 L 408.30,60.86 L 408.80,60.09 L 409.30,59.35 L 409.80,58.67 L 410.30,58.05 L 410.80,57.50 L 411.30,57.02 L 411.80,56.63 L 412.30,56.28 L 412.80,55.96 L 413.30,55.67 L 413.80,55.42 L 414.30,55.21 L 414.80,55.05 L 415.30,54.93 L 415.80,54.83 L 416.30,54.74 L 416.80,54.67 L 417.30,54.62 L 417.80,54.60 L 418.30,54.63 L 418.80,54.73 L 419.30,54.87 L 419.80,55.04 L 420.30,55.23 L 420.80,55.42 L 421.30,55.68 L 421.80,56.00 L 422.30,56.36 L 422.80,56.76 L 423.30,57.19 L 423.80,57.70 L 424.30,58.30 L 424.80,58.97 L 425.30,59.70 L 425.80,60.48 L 426.30,61.35 L 426.80,62.31 L 427.30,63.34 L 427.80,64.41 L 428.30,65.50 L 428.80,66.59 L 429.30,67.67 L 429.80,68.70 L 430.30,69.70 L 430.80,70.71 L 431.30,71.70 L 431.80,72.70 L 432.30,73.70 L 432.80,74.70 L 433.30,75.70 L 433.80,76.70 L 434.30,77.70 L 434.80,78.70 L 435.30,79.70 L 435.80,80.69 L 436.30,81.69 L 436.80,82.68 L 437.30,83.69 L 437.80,84.69 L 438.30,85.71 L 438.80,86.73 L 439.30,87.77 L 439.80,88.82 L 440.30,89.90 L 440.80,91.00 L 441.30,92.11 L 441.80,93.23 L 442.30,94.35 L 442.80,95.46 L 443.30,96.56 L 443.80,97.65 L 444.30,98.71 L 444.80,99.77 L 445.30,100.82 L 445.80,101.87 L 446.30,102.90 L 446.80,103.92 L 447.30,104.91 L 447.80,105.87 L 448.30,106.80 L 448.80,107.71 L 449.30,108.60 L 449.80,109.49 L 450.30,110.37 L 450.80,111.23 L 451.30,112.09 L 451.80,112.93 L 452.30,113.76 L 452.80,114.58 L 453.30,115.38 L 453.80,116.16 L 454.30,116.93 L 454.80,117.68 L 455.30,118.42 L 455.80,119.13 L 456.30,119.83 L 456.80,120.50 L 457.30,121.16 L 457.80,121.81 L 458.30,122.45 L 458.80,123.08 L 459.30,123.71 L 459.80,124.32 L 460.30,124.92 L 460.80,125.52 L 461.30,126.10 L 461.80,126.68 L 462.30,127.24 L 462.80,127.80 L 463.30,128.35 L 463.80,128.89 L 464.30,129.42 L 464.80,129.94 L 465.30,130.45 L 465.80,130.95 L 466.30,131.44 L 466.80,131.93 L 467.30,132.40 L 467.80,132.87 L 468.30,133.32 L 468.80,133.77 L 469.30,134.21 L 469.80,134.65 L 470.30,135.08 L 470.80,135.50 L 471.30,135.93 L 471.80,136.34 L 472.30,136.76 L 472.80,137.16 L 473.30,137.56 L 473.80,137.96 L 474.30,138.35 L 474.80,138.74 L 475.30,139.12 L 475.80,139.49 L 476.30,139.86 L 476.80,140.22 L 477.30,140.58 L 477.80,140.93 L 478.30,141.27 L 478.80,141.61 L 479.30,141.94 L 479.80,142.27 L 480.30,142.59 L 480.80,142.90 L 481.30,143.21 L 481.80,143.51 L 482.30,143.80 L 482.80,144.09 L 483.30,144.37 L 483.80,144.64 L 484.30,144.91 L 484.80,145.17 L 485.30,145.42 L 485.80,145.66 L 486.30,145.90 L 486.80,146.14 L 487.30,146.37 L 487.80,146.59 L 488.30,146.80 L 488.80,147.02 L 489.30,147.22 L 489.80,147.42 L 490.30,147.62 L 490.80,147.82 L 491.30,148.03 L 491.80,148.24 L 492.30,148.45 L 492.80,148.66 L 493.30,148.86 L 493.80,149.05 L 494.30,149.23 L 494.80,149.41 L 495.30,149.56 L 495.80,149.70 L 496.30,149.82 L 496.80,149.91 L 497.30,149.98 L 497.80,150.02 L 498.30,150.06 L 498.80,150.09 L 499.30,150.11 L 499.80,150.13 L 500.30,150.16 L 500.80,150.19 L 501.30,150.22 L 501.80,150.26 L 502.30,150.30 L 502.80,150.35 L 503.30,150.40 L 503.80,150.46 L 504.30,150.53 L 504.80,150.60 L 505.30,150.69 L 505.80,150.80 L 506.30,150.94 L 506.80,151.09 L 507.30,151.26 L 507.80,151.45 L 508.30,151.65 L 508.80,151.87 L 509.30,152.11 L 509.80,152.36 L 510.30,152.62 L 510.80,152.89 L 511.00,153.00" fill="none" stroke="#111" stroke-width="1.5" stroke-dasharray="2.2 2.8"/>
<path d="M 400.00,87.60 L 400.50,86.14 L 401.00,84.72 L 401.50,83.34 L 402.00,82.01 L 402.50,80.72 L 403.00,79.48 L 403.50,78.29 L 404.00,77.16 L 404.50,76.08 L 405.00,75.07 L 405.50,74.11 L 406.00,73.18 L 406.50,72.26 L 407.00,71.37 L 407.50,70.50 L 408.00,69.68 L 408.50,68.92 L 409.00,68.22 L 409.50,67.59 L 410.00,67.05 L 410.50,66.60 L 411.00,66.21 L 411.50,65.85 L 412.00,65.52 L 412.50,65.22 L 413.00,64.95 L 413.50,64.72 L 414.00,64.54 L 414.50,64.40 L 415.00,64.29 L 415.50,64.18 L 416.00,64.08 L 416.50,64.00 L 417.00,63.92 L 417.50,63.86 L 418.00,63.82 L 418.50,63.80 L 419.00,63.81 L 419.50,63.90 L 420.00,64.04 L 420.50,64.23 L 421.00,64.47 L 421.50,64.73 L 422.00,65.00 L 422.50,65.34 L 423.00,65.81 L 423.50,66.37 L 424.00,67.02 L 424.50,67.74 L 425.00,68.52 L 425.50,69.33 L 426.00,70.16 L 426.50,71.00 L 427.00,71.89 L 427.50,72.88 L 428.00,73.96 L 428.50,75.10 L 429.00,76.30 L 429.50,77.52 L 430.00,78.76 L 430.50,79.99 L 431.00,81.21 L 431.50,82.38 L 432.00,83.50 L 432.50,84.58 L 433.00,85.64 L 433.50,86.68 L 434.00,87.72 L 434.50,88.75 L 435.00,89.77 L 435.50,90.79 L 436.00,91.81 L 436.50,92.83 L 437.00,93.86 L 437.50,94.90 L 438.00,95.95 L 438.50,97.01 L 439.00,98.08 L 439.50,99.16 L 440.00,100.23 L 440.50,101.30 L 441.00,102.36 L 441.50,103.40 L 442.00,104.43 L 442.50,105.42 L 443.00,106.39 L 443.50,107.34 L 444.00,108.28 L 444.50,109.20 L 445.00,110.11 L 445.50,111.00 L 446.00,111.88 L 446.50,112.74 L 447.00,113.59 L 447.50,114.42 L 448.00,115.24 L 448.50,116.04 L 449.00,116.84 L 449.50,117.64 L 450.00,118.44 L 450.50,119.23 L 451.00,120.01 L 451.50,120.79 L 452.00,121.56 L 452.50,122.32 L 453.00,123.08 L 453.50,123.83 L 454.00,124.57 L 454.50,125.29 L 455.00,126.01 L 455.50,126.72 L 456.00,127.41 L 456.50,128.09 L 457.00,128.76 L 457.50,129.41 L 458.00,130.05 L 458.50,130.67 L 459.00,131.28 L 459.50,131.87 L 460.00,132.44 L 460.50,133.01 L 461.00,133.56 L 461.50,134.11 L 462.00,134.65 L 462.50,135.18 L 463.00,135.71 L 463.50,136.22 L 464.00,136.73 L 464.50,137.23 L 465.00,137.72 L 465.50,138.21 L 466.00,138.69 L 466.50,139.16 L 467.00,139.62 L 467.50,140.08 L 468.00,140.53 L 468.50,140.97 L 469.00,141.41 L 469.50,141.83 L 470.00,142.26 L 470.50,142.67 L 471.00,143.08 L 471.50,143.48 L 472.00,143.88 L 472.50,144.27 L 473.00,144.65 L 473.50,145.03 L 474.00,145.41 L 474.50,145.79 L 475.00,146.17 L 475.50,146.54 L 476.00,146.92 L 476.50,147.29 L 477.00,147.65 L 477.50,148.02 L 478.00,148.38 L 478.50,148.74 L 479.00,149.10 L 479.50,149.45 L 480.00,149.80 L 480.50,150.15 L 481.00,150.49 L 481.50,150.83 L 482.00,151.16 L 482.50,151.49 L 483.00,151.82 L 483.50,152.14 L 484.00,152.46 L 484.50,152.77 L 485.00,153.08 L 485.50,153.38 L 486.00,153.68 L 486.50,153.97 L 487.00,154.26 L 487.50,154.54 L 488.00,154.81 L 488.50,155.08 L 489.00,155.35 L 489.50,155.60 L 490.00,155.86 L 490.50,156.10 L 491.00,156.34 L 491.50,156.57 L 492.00,156.79 L 492.50,157.01 L 493.00,157.22 L 493.50,157.42 L 494.00,157.62 L 494.50,157.82 L 495.00,158.02 L 495.50,158.22 L 496.00,158.41 L 496.50,158.60 L 497.00,158.79 L 497.50,158.98 L 498.00,159.16 L 498.50,159.34 L 499.00,159.52 L 499.50,159.70 L 500.00,159.87 L 500.50,160.04 L 501.00,160.21 L 501.50,160.37 L 502.00,160.53 L 502.50,160.69 L 503.00,160.84 L 503.50,160.99 L 504.00,161.14 L 504.50,161.28 L 505.00,161.42 L 505.50,161.55 L 506.00,161.68 L 506.50,161.80 L 507.00,161.92 L 507.50,162.04 L 508.00,162.15 L 508.50,162.25 L 509.00,162.35 L 509.50,162.45 L 510.00,162.54 L 510.50,162.62 L 511.00,162.70" fill="none" stroke="#ff0000" stroke-width="1.9" stroke-dasharray="2.9 3.0"/>
<line x1="115.1" y1="396.6" x2="230" y2="396.6" stroke="#9e9aae" stroke-width="1.4" stroke-dasharray="2.4 3.6"/>
<path d="M 115.10,399.00 L 115.60,398.99 L 116.10,398.97 L 116.60,398.94 L 117.10,398.89 L 117.60,398.84 L 118.10,398.77 L 118.60,398.69 L 119.10,398.60 L 119.60,398.50 L 120.10,398.39 L 120.60,398.27 L 121.10,398.15 L 121.60,398.01 L 122.10,397.88 L 122.60,397.73 L 123.10,397.56 L 123.60,397.34 L 124.10,397.05 L 124.60,396.71 L 125.10,396.32 L 125.60,395.87 L 126.10,395.37 L 126.60,394.82 L 127.10,394.22 L 127.60,393.57 L 128.10,392.81 L 128.60,391.73 L 129.10,390.39 L 129.60,388.88 L 130.10,387.31 L 130.60,385.72 L 131.10,383.93 L 131.60,381.80 L 132.10,379.06 L 132.60,375.74 L 133.10,372.08 L 133.60,368.37 L 134.10,364.81 L 134.60,361.09 L 135.10,356.74 L 135.60,351.24 L 136.10,342.80 L 136.60,332.73 L 137.10,323.02 L 137.60,311.63 L 138.10,303.42 L 138.60,303.01 L 139.10,305.87 L 139.60,310.73 L 140.10,316.99 L 140.60,324.04 L 141.10,334.60 L 141.60,348.60 L 142.10,356.63 L 142.60,362.31 L 143.10,366.90 L 143.60,370.85 L 144.10,374.57 L 144.60,378.09 L 145.10,381.28 L 145.60,384.03 L 146.10,386.21 L 146.60,387.83 L 147.10,389.29 L 147.60,390.64 L 148.10,391.86 L 148.60,392.95 L 149.10,393.90 L 149.60,394.69 L 150.10,395.30 L 150.60,395.74 L 151.10,396.03 L 151.60,396.31 L 152.10,396.57 L 152.60,396.81 L 153.10,397.03 L 153.60,397.24 L 154.10,397.43 L 154.60,397.61 L 155.10,397.78 L 155.60,397.93 L 156.10,398.07 L 156.60,398.21 L 157.10,398.33 L 157.60,398.44 L 158.10,398.54 L 158.60,398.64 L 159.10,398.72 L 159.60,398.81 L 160.10,398.88 L 160.60,398.96 L 161.10,399.03 L 161.60,399.09 L 162.10,399.16 L 162.60,399.22 L 163.10,399.28 L 163.60,399.34 L 164.10,399.40 L 164.60,399.45 L 165.10,399.51 L 165.60,399.56 L 166.10,399.61 L 166.60,399.65 L 167.10,399.70 L 167.60,399.74 L 168.10,399.78 L 168.60,399.82 L 169.10,399.86 L 169.60,399.90 L 170.10,399.93 L 170.60,399.97 L 171.10,400.00 L 171.60,400.03 L 172.10,400.06 L 172.60,400.09 L 173.10,400.11 L 173.60,400.14 L 174.10,400.16 L 174.60,400.18 L 175.10,400.20 L 175.60,400.22 L 176.10,400.24 L 176.60,400.26 L 177.10,400.28 L 177.60,400.30 L 178.10,400.32 L 178.60,400.34 L 179.10,400.36 L 179.60,400.38 L 180.10,400.40 L 180.60,400.42 L 181.10,400.43 L 181.60,400.45 L 182.10,400.46 L 182.60,400.48 L 183.10,400.49 L 183.60,400.51 L 184.10,400.52 L 184.60,400.53 L 185.10,400.54 L 185.60,400.55 L 186.10,400.56 L 186.60,400.57 L 187.10,400.58 L 187.60,400.59 L 188.10,400.59 L 188.60,400.60 L 189.10,400.60 L 189.60,400.60 L 190.00,400.60" fill="none" stroke="#2323f0" stroke-width="1.9" stroke-dasharray="2.9 3.0"/>
<path d="M 58.60,312.10 L 59.10,312.83 L 59.60,313.54 L 60.10,314.23 L 60.60,314.89 L 61.10,315.53 L 61.60,316.16 L 62.10,316.86 L 62.60,317.60 L 63.10,318.26 L 63.60,318.76 L 64.10,318.99 L 64.60,318.91 L 65.10,318.60 L 65.60,318.14 L 66.10,317.62 L 66.60,317.09 L 67.10,316.35 L 67.60,315.42 L 68.10,314.53 L 68.60,313.89 L 69.10,313.71 L 69.60,313.88 L 70.10,314.25 L 70.60,314.77 L 71.10,315.38 L 71.60,316.04 L 72.10,316.93 L 72.60,318.10 L 73.10,319.41 L 73.60,320.78 L 74.10,322.41 L 74.60,324.22 L 75.10,325.89 L 75.60,327.17 L 76.10,328.28 L 76.60,329.32 L 77.10,330.28 L 77.60,331.18 L 78.10,332.03 L 78.60,332.83 L 79.10,333.59 L 79.60,334.33 L 80.10,335.04 L 80.60,335.74 L 81.10,336.43 L 81.60,337.12 L 82.10,337.79 L 82.60,338.44 L 83.10,339.06 L 83.60,339.64 L 84.10,340.18 L 84.60,340.67 L 85.10,341.10 L 85.60,341.47 L 86.10,341.82 L 86.60,342.17 L 87.10,342.50 L 87.60,342.82 L 88.10,343.12 L 88.60,343.38 L 89.10,343.59 L 89.60,343.76 L 90.10,343.86 L 90.60,343.90 L 91.10,343.87 L 91.60,343.79 L 92.10,343.66 L 92.60,343.49 L 93.10,343.28 L 93.60,343.06 L 94.10,342.81 L 94.60,342.54 L 95.10,342.15 L 95.60,341.62 L 96.10,341.03 L 96.60,340.43 L 97.10,339.90 L 97.60,339.31 L 98.10,338.67 L 98.60,338.10 L 99.10,337.71 L 99.60,337.60 L 100.10,337.62 L 100.60,337.66 L 101.10,337.72 L 101.60,337.78 L 102.10,337.85 L 102.60,337.96 L 103.10,338.08 L 103.60,338.17 L 104.10,338.20 L 104.60,338.06 L 105.10,337.75 L 105.60,337.30 L 106.10,336.74 L 106.60,336.12 L 107.10,335.46 L 107.60,334.79 L 108.10,334.16 L 108.60,333.59 L 109.10,333.05 L 109.60,332.50 L 110.10,331.94 L 110.60,331.38 L 111.10,330.81 L 111.60,330.22 L 112.10,329.63 L 112.60,329.02 L 113.10,328.39 L 113.60,327.74 L 114.10,327.07 L 114.60,326.38 L 115.10,325.66 L 115.60,324.88 L 116.10,324.05 L 116.60,323.20 L 117.00,322.50" fill="none" stroke="#0b0d40" stroke-width="1.7"/>
<path d="M 114.80,326.10 L 115.30,324.69 L 115.80,323.29 L 116.30,321.92 L 116.80,320.57 L 117.30,319.25 L 117.80,317.97 L 118.30,316.73 L 118.80,315.53 L 119.30,314.38 L 119.80,313.27 L 120.30,312.18 L 120.80,311.13 L 121.30,310.10 L 121.80,309.09 L 122.30,308.09 L 122.80,307.11 L 123.30,306.13 L 123.80,305.16 L 124.30,304.19 L 124.80,303.21 L 125.30,302.23 L 125.80,301.23 L 126.30,300.21 L 126.80,299.18 L 127.30,298.14 L 127.80,297.10 L 128.30,296.06 L 128.80,295.02 L 129.30,293.97 L 129.80,292.92 L 130.30,291.87 L 130.80,290.82 L 131.30,289.76 L 131.80,288.70 L 132.30,287.64 L 132.80,286.58 L 133.30,285.54 L 133.80,284.51 L 134.30,283.45 L 134.80,282.32 L 135.30,281.08 L 135.80,279.62 L 136.30,278.05 L 136.80,276.55 L 137.30,275.30 L 137.80,274.16 L 138.30,273.02 L 138.80,272.08 L 139.30,271.55 L 139.80,271.57 L 140.30,271.94 L 140.80,272.50 L 141.30,273.09 L 141.80,273.66 L 142.30,274.32 L 142.80,275.04 L 143.30,275.78 L 143.80,276.50 L 144.30,277.15 L 144.80,277.71 L 145.30,278.21 L 145.80,278.68 L 146.30,279.12 L 146.80,279.55 L 147.30,279.96 L 147.80,280.37 L 148.30,280.79 L 148.80,281.22 L 149.30,281.67 L 149.80,282.10 L 150.30,282.51 L 150.80,282.93 L 151.30,283.35 L 151.80,283.78 L 152.30,284.23 L 152.80,284.71 L 153.30,285.22 L 153.80,285.78 L 154.30,286.40 L 154.80,287.08 L 155.30,287.82 L 155.80,288.62 L 156.30,289.46 L 156.80,290.34 L 157.30,291.26 L 157.80,292.20 L 158.30,293.16 L 158.80,294.14 L 159.30,295.12 L 159.80,296.09 L 160.30,297.06 L 160.80,298.01 L 161.30,298.95 L 161.80,299.89 L 162.30,300.84 L 162.80,301.80 L 163.30,302.77 L 163.80,303.74 L 164.30,304.72 L 164.80,305.72 L 165.30,306.72 L 165.80,307.74 L 166.30,308.77 L 166.80,309.82 L 167.30,310.88 L 167.80,311.96 L 168.30,313.06 L 168.80,314.19 L 169.30,315.39 L 169.80,316.65 L 170.30,317.92 L 170.80,319.16 L 171.30,320.34 L 171.80,321.43 L 172.30,322.47 L 172.80,323.50 L 173.30,324.51 L 173.80,325.50 L 174.30,326.48 L 174.80,327.43 L 175.30,328.38 L 175.80,329.30 L 176.30,330.22 L 176.80,331.12 L 177.30,332.01 L 177.80,332.89 L 178.30,333.76 L 178.80,334.62 L 179.30,335.47 L 179.80,336.32 L 180.30,337.16 L 180.80,338.00 L 181.30,338.84 L 181.80,339.67 L 182.30,340.50 L 182.80,341.33 L 183.30,342.17 L 183.80,343.01 L 184.30,343.84 L 184.80,344.67 L 185.30,345.49 L 185.80,346.29 L 186.30,347.09 L 186.80,347.87 L 187.30,348.63 L 187.80,349.38 L 188.30,350.10 L 188.80,350.79 L 189.30,351.46 L 189.80,352.10 L 190.30,352.70 L 190.80,353.28 L 191.30,353.84 L 191.80,354.39 L 192.30,354.93 L 192.80,355.45 L 193.30,355.96 L 193.80,356.45 L 194.30,356.94 L 194.80,357.41 L 195.30,357.88 L 195.80,358.34 L 196.30,358.78 L 196.80,359.22 L 197.30,359.65 L 197.80,360.08 L 198.30,360.50 L 198.80,360.92 L 199.30,361.33 L 199.80,361.73 L 200.30,362.14 L 200.80,362.54 L 201.30,362.94 L 201.80,363.35 L 202.30,363.75 L 202.80,364.14 L 203.30,364.53 L 203.80,364.92 L 204.30,365.30 L 204.80,365.68 L 205.30,366.04 L 205.80,366.40 L 206.30,366.74 L 206.80,367.08 L 207.30,367.40 L 207.80,367.71 L 208.30,368.01 L 208.80,368.29 L 209.30,368.55 L 209.80,368.80 L 210.30,369.03 L 210.80,369.26 L 211.30,369.48 L 211.80,369.69 L 212.30,369.89 L 212.80,370.09 L 213.30,370.28 L 213.80,370.46 L 214.30,370.64 L 214.80,370.82 L 215.30,370.99 L 215.80,371.17 L 216.30,371.34 L 216.80,371.52 L 217.30,371.69 L 217.80,371.87 L 218.30,372.05 L 218.80,372.23 L 219.30,372.42 L 219.80,372.61 L 220.30,372.80 L 220.80,372.98 L 221.30,373.15 L 221.80,373.33 L 222.30,373.50 L 222.80,373.68 L 223.30,373.87 L 223.80,374.06 L 224.30,374.26 L 224.80,374.47 L 225.30,374.70 L 225.80,374.95 L 226.30,375.22 L 226.80,375.51 L 227.30,375.82 L 227.80,376.16 L 228.30,376.52 L 228.80,376.90 L 229.30,377.30 L 229.80,377.71 L 230.30,378.14 L 230.80,378.58 L 231.30,379.03 L 231.80,379.50 L 231.80,379.50" fill="none" stroke="#0b0d40" stroke-width="1.7" stroke-dasharray="3.3 2.6"/>
<path d="M 115.50,328.30 L 116.00,327.29 L 116.50,326.27 L 117.00,325.26 L 117.50,324.25 L 118.00,323.24 L 118.50,322.23 L 119.00,321.22 L 119.50,320.22 L 120.00,319.21 L 120.50,318.20 L 121.00,317.20 L 121.50,316.19 L 122.00,315.18 L 122.50,314.18 L 123.00,313.17 L 123.50,312.16 L 124.00,311.16 L 124.50,310.15 L 125.00,309.15 L 125.50,308.15 L 126.00,307.16 L 126.50,306.17 L 127.00,305.19 L 127.50,304.21 L 128.00,303.22 L 128.50,302.23 L 129.00,301.24 L 129.50,300.25 L 130.00,299.27 L 130.50,298.29 L 131.00,297.33 L 131.50,296.38 L 132.00,295.45 L 132.50,294.55 L 133.00,293.67 L 133.50,292.82 L 134.00,291.97 L 134.50,291.15 L 135.00,290.35 L 135.50,289.59 L 136.00,288.87 L 136.50,288.19 L 137.00,287.52 L 137.50,286.87 L 138.00,286.27 L 138.50,285.74 L 139.00,285.30 L 139.50,284.93 L 140.00,284.58 L 140.50,284.26 L 141.00,283.99 L 141.50,283.76 L 142.00,283.60 L 142.50,283.47 L 143.00,283.35 L 143.50,283.24 L 144.00,283.16 L 144.50,283.11 L 145.00,283.10 L 145.50,283.17 L 146.00,283.32 L 146.50,283.54 L 147.00,283.83 L 147.50,284.17 L 148.00,284.55 L 148.50,284.97 L 149.00,285.40 L 149.50,285.85 L 150.00,286.29 L 150.50,286.73 L 151.00,287.16 L 151.50,287.60 L 152.00,288.08 L 152.50,288.58 L 153.00,289.11 L 153.50,289.66 L 154.00,290.24 L 154.50,290.85 L 155.00,291.48 L 155.50,292.14 L 156.00,292.82 L 156.50,293.52 L 157.00,294.25 L 157.50,295.02 L 158.00,295.84 L 158.50,296.73 L 159.00,297.67 L 159.50,298.65 L 160.00,299.68 L 160.50,300.74 L 161.00,301.84 L 161.50,302.96 L 162.00,304.10 L 162.50,305.27 L 163.00,306.45 L 163.50,307.63 L 164.00,308.82 L 164.50,310.00 L 165.00,311.18 L 165.50,312.35 L 166.00,313.50 L 166.50,314.67 L 167.00,315.89 L 167.50,317.14 L 168.00,318.43 L 168.50,319.73 L 169.00,321.04 L 169.50,322.34 L 170.00,323.63 L 170.50,324.90 L 171.00,326.13 L 171.50,327.32 L 172.00,328.45 L 172.50,329.52 L 173.00,330.51 L 173.50,331.43 L 174.00,332.30 L 174.50,333.14 L 175.00,333.94 L 175.50,334.72 L 176.00,335.47 L 176.50,336.20 L 177.00,336.91 L 177.50,337.62 L 178.00,338.31 L 178.50,339.01 L 179.00,339.72 L 179.50,340.43 L 180.00,341.15 L 180.50,341.89 L 181.00,342.64 L 181.50,343.40 L 182.00,344.16 L 182.50,344.92 L 183.00,345.69 L 183.50,346.45 L 184.00,347.22 L 184.50,347.98 L 185.00,348.73 L 185.50,349.48 L 186.00,350.22 L 186.50,350.94 L 187.00,351.65 L 187.50,352.35 L 188.00,353.03 L 188.50,353.70 L 189.00,354.34 L 189.50,354.96 L 190.00,355.55 L 190.50,356.13 L 191.00,356.68 L 191.50,357.22 L 192.00,357.75 L 192.50,358.26 L 193.00,358.77 L 193.50,359.26 L 194.00,359.74 L 194.50,360.21 L 195.00,360.68 L 195.50,361.14 L 196.00,361.59 L 196.50,362.03 L 197.00,362.47 L 197.50,362.91 L 198.00,363.35 L 198.50,363.78 L 199.00,364.21 L 199.50,364.64 L 200.00,365.07 L 200.50,365.50 L 201.00,365.93 L 201.50,366.37 L 202.00,366.80 L 202.50,367.24 L 203.00,367.67 L 203.50,368.11 L 204.00,368.54 L 204.50,368.97 L 205.00,369.40 L 205.50,369.82 L 206.00,370.25 L 206.50,370.66 L 207.00,371.08 L 207.50,371.49 L 208.00,371.89 L 208.50,372.28 L 209.00,372.67 L 209.50,373.05 L 210.00,373.43 L 210.50,373.79 L 211.00,374.15 L 211.50,374.50 L 212.00,374.83 L 212.50,375.16 L 213.00,375.48 L 213.50,375.78 L 214.00,376.08 L 214.50,376.38 L 215.00,376.67 L 215.50,376.95 L 216.00,377.23 L 216.50,377.51 L 217.00,377.77 L 217.50,378.04 L 218.00,378.30 L 218.50,378.55 L 219.00,378.80 L 219.50,379.05 L 220.00,379.28 L 220.50,379.52 L 221.00,379.74 L 221.50,379.97 L 222.00,380.18 L 222.50,380.40 L 223.00,380.60 L 223.50,380.80 L 224.00,381.00 L 224.50,381.19 L 225.00,381.38 L 225.50,381.56 L 226.00,381.74 L 226.50,381.92 L 227.00,382.09 L 227.50,382.26 L 228.00,382.42 L 228.50,382.58 L 229.00,382.73 L 229.50,382.88 L 230.00,383.02 L 230.50,383.16 L 231.00,383.30 L 231.50,383.43 L 231.80,383.50" fill="none" stroke="#ff0000" stroke-width="1.9" stroke-dasharray="2.9 3.0"/>
<line x1="401.5" y1="400.8" x2="510" y2="400.8" stroke="#9e9aae" stroke-width="1.4" stroke-dasharray="2.4 3.6"/>
<path d="M 402.10,403.70 L 402.60,403.65 L 403.10,403.59 L 403.60,403.54 L 404.10,403.48 L 404.60,403.41 L 405.10,403.35 L 405.60,403.28 L 406.10,403.21 L 406.60,403.14 L 407.10,403.06 L 407.60,402.98 L 408.10,402.90 L 408.60,402.82 L 409.10,402.74 L 409.60,402.65 L 410.10,402.57 L 410.60,402.48 L 411.10,402.39 L 411.60,402.30 L 412.10,402.20 L 412.60,402.11 L 413.10,402.01 L 413.60,401.92 L 414.10,401.82 L 414.60,401.72 L 415.10,401.63 L 415.60,401.54 L 416.10,401.45 L 416.60,401.36 L 417.10,401.27 L 417.60,401.17 L 418.10,401.06 L 418.60,400.95 L 419.10,400.82 L 419.60,400.69 L 420.10,400.54 L 420.60,400.37 L 421.10,400.19 L 421.60,399.99 L 422.10,399.75 L 422.60,399.40 L 423.10,398.94 L 423.60,398.40 L 424.10,397.77 L 424.60,397.07 L 425.10,396.31 L 425.60,395.50 L 426.10,394.58 L 426.60,393.49 L 427.10,392.23 L 427.60,390.80 L 428.10,389.22 L 428.60,387.49 L 429.10,385.61 L 429.60,383.58 L 430.10,381.26 L 430.60,378.45 L 431.10,374.97 L 431.60,370.44 L 432.10,363.27 L 432.60,354.84 L 433.10,346.86 L 433.60,338.63 L 434.10,331.23 L 434.60,324.94 L 435.10,319.40 L 435.60,317.70 L 436.10,320.71 L 436.60,326.93 L 437.10,339.61 L 437.60,354.01 L 438.10,362.40 L 438.60,368.70 L 439.10,373.31 L 439.60,376.95 L 440.10,379.99 L 440.60,382.56 L 441.10,384.82 L 441.60,386.91 L 442.10,388.96 L 442.60,390.94 L 443.10,392.77 L 443.60,394.37 L 444.10,395.66 L 444.60,396.57 L 445.10,397.15 L 445.60,397.65 L 446.10,398.10 L 446.60,398.48 L 447.10,398.82 L 447.60,399.13 L 448.10,399.40 L 448.60,399.65 L 449.10,399.88 L 449.60,400.11 L 450.10,400.33 L 450.60,400.55 L 451.10,400.75 L 451.60,400.94 L 452.10,401.12 L 452.60,401.29 L 453.10,401.44 L 453.60,401.58 L 454.10,401.71 L 454.60,401.82 L 455.10,401.93 L 455.60,402.02 L 456.10,402.12 L 456.60,402.21 L 457.10,402.29 L 457.60,402.37 L 458.10,402.45 L 458.60,402.52 L 459.10,402.59 L 459.60,402.65 L 460.10,402.71 L 460.60,402.77 L 461.10,402.83 L 461.60,402.88 L 462.10,402.93 L 462.60,402.98 L 463.10,403.02 L 463.60,403.07 L 464.10,403.11 L 464.60,403.15 L 465.10,403.19 L 465.60,403.22 L 466.10,403.25 L 466.60,403.28 L 467.00,403.30" fill="none" stroke="#2323f0" stroke-width="1.9" stroke-dasharray="2.9 3.0"/>
<path d="M 337.00,329.00 L 337.50,328.79 L 338.00,328.60 L 338.50,328.43 L 339.00,328.27 L 339.50,328.13 L 340.00,328.01 L 340.50,327.90 L 341.00,327.82 L 341.50,327.76 L 342.00,327.72 L 342.50,327.70 L 343.00,327.71 L 343.50,327.74 L 344.00,327.79 L 344.50,327.86 L 345.00,327.94 L 345.50,328.02 L 346.00,328.11 L 346.50,328.20 L 347.00,328.29 L 347.50,328.37 L 348.00,328.44 L 348.50,328.50 L 349.00,328.56 L 349.50,328.61 L 350.00,328.66 L 350.50,328.71 L 351.00,328.76 L 351.50,328.82 L 352.00,328.89 L 352.50,328.97 L 353.00,329.05 L 353.50,329.16 L 354.00,329.27 L 354.50,329.46 L 355.00,329.81 L 355.50,330.29 L 356.00,330.89 L 356.50,331.57 L 357.00,332.31 L 357.50,333.08 L 358.00,333.86 L 358.50,334.62 L 359.00,335.33 L 359.50,336.00 L 360.00,336.72 L 360.50,337.48 L 361.00,338.27 L 361.50,339.08 L 362.00,339.88 L 362.50,340.67 L 363.00,341.44 L 363.50,342.16 L 364.00,342.82 L 364.50,343.40 L 365.00,343.90 L 365.50,344.30 L 366.00,344.64 L 366.50,344.97 L 367.00,345.30 L 367.50,345.62 L 368.00,345.92 L 368.50,346.21 L 369.00,346.48 L 369.50,346.73 L 370.00,346.96 L 370.50,347.16 L 371.00,347.33 L 371.50,347.48 L 372.00,347.59 L 372.50,347.66 L 373.00,347.70 L 373.50,347.69 L 374.00,347.65 L 374.50,347.56 L 375.00,347.45 L 375.50,347.30 L 376.00,347.12 L 376.50,346.91 L 377.00,346.69 L 377.50,346.44 L 378.00,346.17 L 378.50,345.89 L 379.00,345.60 L 379.50,345.30 L 380.00,344.99 L 380.50,344.69 L 381.00,344.37 L 381.50,344.00 L 382.00,343.57 L 382.50,343.08 L 383.00,342.55 L 383.50,341.98 L 384.00,341.37 L 384.50,340.74 L 385.00,340.09 L 385.50,339.42 L 386.00,338.76 L 386.50,338.09 L 387.00,337.44 L 387.50,336.80 L 388.00,336.18 L 388.50,335.60 L 389.00,335.04 L 389.50,334.49 L 390.00,333.94 L 390.50,333.40 L 391.00,332.86 L 391.50,332.32 L 392.00,331.78 L 392.50,331.24 L 393.00,330.70 L 393.50,330.15 L 394.00,329.60 L 394.50,329.05 L 395.00,328.48 L 395.50,327.91 L 396.00,327.32 L 396.50,326.72 L 397.00,326.11 L 397.50,325.48 L 398.00,324.85 L 398.50,324.21 L 399.00,323.56 L 399.50,322.91 L 400.00,322.25 L 400.50,321.59 L 401.00,320.93 L 401.50,320.27 L 402.00,319.61 L 402.50,318.95 L 403.00,318.30 L 403.50,317.66 L 404.00,317.02 L 404.50,316.40 L 405.00,315.76 L 405.50,315.10 L 406.00,314.40 L 406.50,313.67 L 407.00,312.93 L 407.50,312.18 L 408.00,311.43 L 408.50,310.70 L 409.00,309.98 L 409.50,309.30 L 410.00,308.66 L 410.50,308.07 L 411.00,307.48 L 411.50,306.89 L 412.00,306.32 L 412.50,305.76 L 413.00,305.22 L 413.50,304.72 L 414.00,304.25 L 414.50,303.83 L 415.00,303.46 L 415.50,303.14 L 416.00,302.84 L 416.50,302.54 L 417.00,302.26 L 417.50,301.98 L 418.00,301.73 L 418.50,301.51 L 419.00,301.33 L 419.50,301.20 L 420.00,301.12 L 420.50,301.10 L 421.00,301.13 L 421.50,301.19 L 422.00,301.28 L 422.50,301.39 L 423.00,301.52 L 423.50,301.67 L 424.00,301.83 L 424.50,302.00 L 425.00,302.17 L 425.50,302.42 L 426.00,302.73 L 426.50,303.06 L 427.00,303.41 L 427.50,303.73 L 428.00,304.00 L 428.50,304.26 L 429.00,304.52 L 429.50,304.76 L 430.00,304.93 L 430.50,305.00 L 431.00,304.98 L 431.50,304.92 L 432.00,304.83 L 432.50,304.73 L 433.00,304.63 L 433.50,304.53 L 434.00,304.45 L 434.50,304.41 L 435.00,304.44 L 435.50,304.89 L 436.00,305.68 L 436.50,306.64 L 437.00,307.60 L 437.50,308.61 L 438.00,309.80 L 438.50,311.12 L 439.00,312.50 L 439.50,313.89 L 440.00,315.23 L 440.50,316.47 L 441.00,317.58 L 441.50,318.63 L 442.00,319.64 L 442.50,320.63 L 443.00,321.61 L 443.50,322.61 L 444.00,323.65 L 444.50,324.75 L 445.00,325.93 L 445.50,327.15 L 446.00,328.37 L 446.50,329.54 L 447.00,330.61 L 447.50,331.62 L 448.00,332.63 L 448.50,333.61 L 449.00,334.58 L 449.50,335.53 L 450.00,336.47 L 450.50,337.39 L 451.00,338.29 L 451.50,339.18 L 452.00,340.06 L 452.50,340.92 L 453.00,341.76 L 453.50,342.60 L 454.00,343.41 L 454.50,344.22 L 455.00,345.01 L 455.50,345.79 L 456.00,346.56 L 456.50,347.31 L 457.00,348.05 L 457.50,348.78 L 458.00,349.51 L 458.50,350.23 L 459.00,350.94 L 459.50,351.64 L 460.00,352.33 L 460.50,353.02 L 461.00,353.69 L 461.50,354.36 L 462.00,355.01 L 462.50,355.66 L 463.00,356.29 L 463.50,356.91 L 464.00,357.52 L 464.50,358.12 L 465.00,358.70 L 465.50,359.27 L 466.00,359.82 L 466.50,360.36 L 467.00,360.89 L 467.50,361.40 L 468.00,361.89 L 468.50,362.36 L 469.00,362.81 L 469.50,363.25 L 470.00,363.67 L 470.50,364.08 L 471.00,364.48 L 471.50,364.88 L 472.00,365.28 L 472.50,365.68 L 473.00,366.09 L 473.50,366.50 L 474.00,366.91 L 474.50,367.32 L 475.00,367.73 L 475.50,368.13 L 476.00,368.54 L 476.50,368.93 L 477.00,369.33 L 477.50,369.71 L 478.00,370.09 L 478.50,370.45 L 479.00,370.81 L 479.50,371.15 L 480.00,371.48 L 480.50,371.80 L 481.00,372.11 L 481.50,372.41 L 482.00,372.70 L 482.50,372.99 L 483.00,373.28 L 483.50,373.56 L 484.00,373.84 L 484.50,374.11 L 485.00,374.38 L 485.50,374.64 L 486.00,374.90 L 486.50,375.16 L 487.00,375.41 L 487.50,375.65 L 488.00,375.89 L 488.50,376.13 L 489.00,376.37 L 489.50,376.60 L 490.00,376.83 L 490.50,377.05 L 491.00,377.27 L 491.50,377.49 L 492.00,377.70 L 492.50,377.91 L 493.00,378.12 L 493.50,378.32 L 494.00,378.53 L 494.50,378.73 L 495.00,378.93 L 495.50,379.12 L 496.00,379.32 L 496.50,379.52 L 497.00,379.71 L 497.50,379.90 L 498.00,380.09 L 498.50,380.28 L 499.00,380.47 L 499.50,380.65 L 500.00,380.83 L 500.50,381.01 L 501.00,381.19 L 501.50,381.37 L 502.00,381.54 L 502.50,381.71 L 503.00,381.88 L 503.50,382.05 L 504.00,382.21 L 504.50,382.37 L 505.00,382.53 L 505.50,382.69 L 506.00,382.84 L 506.50,382.99 L 507.00,383.14 L 507.50,383.28 L 508.00,383.42 L 508.50,383.56 L 509.00,383.69 L 509.50,383.83 L 510.00,383.95 L 510.50,384.08 L 511.00,384.20" fill="none" stroke="#faf200" stroke-width="1.9"/>
<path d="M 401.00,320.00 L 401.50,319.51 L 402.00,318.99 L 402.50,318.44 L 403.00,317.86 L 403.50,317.25 L 404.00,316.62 L 404.50,315.97 L 405.00,315.30 L 405.50,314.57 L 406.00,313.76 L 406.50,312.90 L 407.00,312.03 L 407.50,311.17 L 408.00,310.36 L 408.50,309.63 L 409.00,308.98 L 409.50,308.36 L 410.00,307.77 L 410.50,307.20 L 411.00,306.65 L 411.50,306.13 L 412.00,305.63 L 412.50,305.16 L 413.00,304.70 L 413.50,304.24 L 414.00,303.77 L 414.50,303.30 L 415.00,302.85 L 415.50,302.43 L 416.00,302.06 L 416.50,301.75 L 417.00,301.52 L 417.50,301.38 L 418.00,301.28 L 418.50,301.18 L 419.00,301.09 L 419.50,301.01 L 420.00,300.93 L 420.50,300.87 L 421.00,300.81 L 421.50,300.77 L 422.00,300.74 L 422.50,300.71 L 423.00,300.70 L 423.50,300.71 L 424.00,300.77 L 424.50,300.88 L 425.00,301.03 L 425.50,301.22 L 426.00,301.42 L 426.50,301.63 L 427.00,301.85 L 427.50,302.07 L 428.00,302.27 L 428.50,302.45 L 429.00,302.60 L 429.50,302.72 L 430.00,302.81 L 430.50,302.90 L 431.00,302.97 L 431.50,303.04 L 432.00,303.12 L 432.50,303.20 L 433.00,303.31 L 433.50,303.44 L 434.00,303.60 L 434.50,303.80 L 435.00,304.27 L 435.50,305.15 L 436.00,306.32 L 436.50,307.65 L 437.00,309.00 L 437.50,310.57 L 438.00,312.44 L 438.50,314.31 L 439.00,315.91 L 439.50,317.39 L 440.00,318.77 L 440.50,319.98 L 441.00,321.02 L 441.50,321.97 L 442.00,322.84 L 442.50,323.65 L 443.00,324.44 L 443.50,325.21 L 444.00,326.00 L 444.50,326.78 L 445.00,327.54 L 445.50,328.27 L 446.00,329.01 L 446.50,329.77 L 447.00,330.56 L 447.50,331.38 L 448.00,332.22 L 448.50,333.09 L 449.00,333.97 L 449.50,334.87 L 450.00,335.78 L 450.50,336.70 L 451.00,337.62 L 451.50,338.55 L 452.00,339.47 L 452.50,340.39 L 453.00,341.31 L 453.50,342.22 L 454.00,343.11 L 454.50,343.99 L 455.00,344.85 L 455.50,345.69 L 456.00,346.51 L 456.50,347.30 L 457.00,348.05 L 457.50,348.79 L 458.00,349.51 L 458.50,350.23 L 459.00,350.94 L 459.50,351.64 L 460.00,352.34 L 460.50,353.02 L 461.00,353.70 L 461.50,354.37 L 462.00,355.02 L 462.50,355.67 L 463.00,356.30 L 463.50,356.92 L 464.00,357.53 L 464.50,358.13 L 465.00,358.71 L 465.50,359.28 L 466.00,359.83 L 466.50,360.37 L 467.00,360.89 L 467.50,361.40 L 468.00,361.89 L 468.50,362.38 L 469.00,362.85 L 469.50,363.32 L 470.00,363.78 L 470.50,364.24 L 471.00,364.68 L 471.50,365.12 L 472.00,365.55 L 472.50,365.98 L 473.00,366.40 L 473.50,366.81 L 474.00,367.21 L 474.50,367.60 L 475.00,367.99 L 475.50,368.37 L 476.00,368.75 L 476.50,369.11 L 477.00,369.47 L 477.50,369.83 L 478.00,370.17 L 478.50,370.51 L 479.00,370.84 L 479.50,371.17 L 480.00,371.49 L 480.50,371.80 L 481.00,372.11 L 481.50,372.41 L 482.00,372.70 L 482.50,373.00 L 483.00,373.28 L 483.50,373.57 L 484.00,373.84 L 484.50,374.12 L 485.00,374.39 L 485.50,374.65 L 486.00,374.91 L 486.50,375.17 L 487.00,375.42 L 487.50,375.67 L 488.00,375.91 L 488.50,376.15 L 489.00,376.38 L 489.50,376.61 L 490.00,376.84 L 490.50,377.06 L 491.00,377.28 L 491.50,377.50 L 492.00,377.71 L 492.50,377.92 L 493.00,378.12 L 493.50,378.32 L 494.00,378.52 L 494.50,378.72 L 495.00,378.91 L 495.50,379.11 L 496.00,379.30 L 496.50,379.49 L 497.00,379.68 L 497.50,379.87 L 498.00,380.05 L 498.50,380.24 L 499.00,380.42 L 499.50,380.60 L 500.00,380.78 L 500.50,380.95 L 501.00,381.13 L 501.50,381.30 L 502.00,381.46 L 502.50,381.63 L 503.00,381.79 L 503.50,381.95 L 504.00,382.11 L 504.50,382.27 L 505.00,382.42 L 505.50,382.57 L 506.00,382.71 L 506.50,382.86 L 507.00,383.00 L 507.50,383.14 L 508.00,383.27 L 508.50,383.40 L 509.00,383.53 L 509.50,383.65 L 510.00,383.77 L 510.50,383.89 L 511.00,384.00" fill="none" stroke="#101040" stroke-width="1.7" stroke-dasharray="2.8 3"/>
<path d="M 401.60,324.60 L 402.10,323.83 L 402.60,323.06 L 403.10,322.28 L 403.60,321.51 L 404.10,320.73 L 404.60,319.95 L 405.10,319.18 L 405.60,318.40 L 406.10,317.61 L 406.60,316.79 L 407.10,315.98 L 407.60,315.18 L 408.10,314.40 L 408.60,313.67 L 409.10,313.00 L 409.60,312.34 L 410.10,311.70 L 410.60,311.08 L 411.10,310.48 L 411.60,309.91 L 412.10,309.38 L 412.60,308.89 L 413.10,308.42 L 413.60,307.96 L 414.10,307.51 L 414.60,307.07 L 415.10,306.65 L 415.60,306.26 L 416.10,305.91 L 416.60,305.61 L 417.10,305.36 L 417.60,305.17 L 418.10,305.00 L 418.60,304.84 L 419.10,304.70 L 419.60,304.59 L 420.10,304.52 L 420.60,304.50 L 421.10,304.51 L 421.60,304.54 L 422.10,304.57 L 422.60,304.62 L 423.10,304.68 L 423.60,304.76 L 424.10,304.93 L 424.60,305.19 L 425.10,305.52 L 425.60,305.90 L 426.10,306.32 L 426.60,306.75 L 427.10,307.18 L 427.60,307.60 L 428.10,308.02 L 428.60,308.45 L 429.10,308.91 L 429.60,309.39 L 430.10,309.89 L 430.60,310.41 L 431.10,310.96 L 431.60,311.52 L 432.10,312.10 L 432.60,312.70 L 433.10,313.35 L 433.60,314.07 L 434.10,314.83 L 434.60,315.62 L 435.10,316.41 L 435.60,317.18 L 436.10,317.92 L 436.60,318.60 L 437.10,319.23 L 437.60,319.82 L 438.10,320.41 L 438.60,321.01 L 439.10,321.65 L 439.60,322.34 L 440.10,323.13 L 440.60,324.04 L 441.10,325.05 L 441.60,326.15 L 442.10,327.29 L 442.60,328.45 L 443.10,329.60 L 443.60,330.70 L 444.10,331.73 L 444.60,332.67 L 445.10,333.57 L 445.60,334.47 L 446.10,335.35 L 446.60,336.22 L 447.10,337.09 L 447.60,337.94 L 448.10,338.78 L 448.60,339.61 L 449.10,340.43 L 449.60,341.24 L 450.10,342.04 L 450.60,342.83 L 451.10,343.61 L 451.60,344.38 L 452.10,345.14 L 452.60,345.89 L 453.10,346.63 L 453.60,347.36 L 454.10,348.08 L 454.60,348.79 L 455.10,349.50 L 455.60,350.19 L 456.10,350.87 L 456.60,351.55 L 457.10,352.21 L 457.60,352.87 L 458.10,353.52 L 458.60,354.15 L 459.10,354.78 L 459.60,355.40 L 460.10,356.00 L 460.60,356.60 L 461.10,357.18 L 461.60,357.76 L 462.10,358.32 L 462.60,358.88 L 463.10,359.43 L 463.60,359.98 L 464.10,360.51 L 464.60,361.04 L 465.10,361.56 L 465.60,362.08 L 466.10,362.59 L 466.60,363.10 L 467.10,363.60 L 467.60,364.10 L 468.10,364.60 L 468.60,365.10 L 469.10,365.59 L 469.60,366.09 L 470.10,366.59 L 470.60,367.09 L 471.10,367.58 L 471.60,368.07 L 472.10,368.56 L 472.60,369.04 L 473.10,369.52 L 473.60,369.99 L 474.10,370.46 L 474.60,370.92 L 475.10,371.37 L 475.60,371.82 L 476.10,372.25 L 476.60,372.68 L 477.10,373.09 L 477.60,373.50 L 478.10,373.89 L 478.60,374.27 L 479.10,374.64 L 479.60,375.00 L 480.10,375.34 L 480.60,375.66 L 481.10,375.98 L 481.60,376.29 L 482.10,376.59 L 482.60,376.88 L 483.10,377.17 L 483.60,377.45 L 484.10,377.73 L 484.60,377.99 L 485.10,378.26 L 485.60,378.51 L 486.10,378.77 L 486.60,379.02 L 487.10,379.26 L 487.60,379.50 L 488.10,379.73 L 488.60,379.97 L 489.10,380.20 L 489.60,380.42 L 490.10,380.65 L 490.60,380.87 L 491.10,381.09 L 491.60,381.31 L 492.10,381.52 L 492.60,381.74 L 493.10,381.96 L 493.60,382.17 L 494.10,382.39 L 494.60,382.60 L 495.10,382.81 L 495.60,383.02 L 496.10,383.23 L 496.60,383.44 L 497.10,383.64 L 497.60,383.84 L 498.10,384.05 L 498.60,384.25 L 499.10,384.45 L 499.60,384.65 L 500.10,384.84 L 500.60,385.04 L 501.10,385.23 L 501.60,385.42 L 502.10,385.61 L 502.60,385.79 L 503.10,385.98 L 503.60,386.16 L 504.10,386.34 L 504.60,386.52 L 505.10,386.70 L 505.60,386.87 L 506.10,387.04 L 506.60,387.21 L 507.10,387.38 L 507.60,387.54 L 508.10,387.71 L 508.60,387.87 L 509.10,388.02 L 509.60,388.18 L 510.10,388.33 L 510.60,388.48 L 511.00,388.60" fill="none" stroke="#ff0000" stroke-width="1.9" stroke-dasharray="2.9 3.0"/>
<path d="M 58.25,36.35 L 58.25,176.35 L 234.0,176.35 L 234.0,36.35 Z" fill="none" stroke="#262626" stroke-width="1.15"/>
<line x1="59.6" y1="176.35" x2="59.6" y2="171.85" stroke="#262626" stroke-width="1.1" />
<line x1="81.24000000000001" y1="176.35" x2="81.24000000000001" y2="173.54999999999998" stroke="#262626" stroke-width="1.1" />
<line x1="102.88" y1="176.35" x2="102.88" y2="171.85" stroke="#262626" stroke-width="1.1" />
<line x1="124.52000000000001" y1="176.35" x2="124.52000000000001" y2="173.54999999999998" stroke="#262626" stroke-width="1.1" />
<line x1="146.16" y1="176.35" x2="146.16" y2="171.85" stroke="#262626" stroke-width="1.1" />
<line x1="167.8" y1="176.35" x2="167.8" y2="173.54999999999998" stroke="#262626" stroke-width="1.1" />
<line x1="189.44" y1="176.35" x2="189.44" y2="171.85" stroke="#262626" stroke-width="1.1" />
<line x1="211.08" y1="176.35" x2="211.08" y2="173.54999999999998" stroke="#262626" stroke-width="1.1" />
<line x1="232.72" y1="176.35" x2="232.72" y2="171.85" stroke="#262626" stroke-width="1.1" />
<line x1="221.9625" y1="36.35" x2="221.9625" y2="39.15" stroke="#262626" stroke-width="1.1" />
<line x1="202.2" y1="36.35" x2="202.2" y2="39.15" stroke="#262626" stroke-width="1.1" />
<line x1="184.63333333333335" y1="36.35" x2="184.63333333333335" y2="39.15" stroke="#262626" stroke-width="1.1" />
<line x1="168.9157894736842" y1="36.35" x2="168.9157894736842" y2="39.15" stroke="#262626" stroke-width="1.1" />
<line x1="154.77" y1="36.35" x2="154.77" y2="40.85" stroke="#262626" stroke-width="1.1" />
<line x1="141.97142857142856" y1="36.35" x2="141.97142857142856" y2="39.15" stroke="#262626" stroke-width="1.1" />
<line x1="130.33636363636364" y1="36.35" x2="130.33636363636364" y2="39.15" stroke="#262626" stroke-width="1.1" />
<line x1="119.71304347826089" y1="36.35" x2="119.71304347826089" y2="39.15" stroke="#262626" stroke-width="1.1" />
<line x1="109.97500000000002" y1="36.35" x2="109.97500000000002" y2="39.15" stroke="#262626" stroke-width="1.1" />
<line x1="101.01599999999999" y1="36.35" x2="101.01599999999999" y2="40.85" stroke="#262626" stroke-width="1.1" />
<line x1="92.74615384615385" y1="36.35" x2="92.74615384615385" y2="39.15" stroke="#262626" stroke-width="1.1" />
<line x1="85.08888888888887" y1="36.35" x2="85.08888888888887" y2="39.15" stroke="#262626" stroke-width="1.1" />
<line x1="77.97857142857144" y1="36.35" x2="77.97857142857144" y2="39.15" stroke="#262626" stroke-width="1.1" />
<line x1="71.35862068965518" y1="36.35" x2="71.35862068965518" y2="39.15" stroke="#262626" stroke-width="1.1" />
<line x1="65.17999999999999" y1="36.35" x2="65.17999999999999" y2="40.85" stroke="#262626" stroke-width="1.1" />
<line x1="58.25" y1="68.3" x2="62.75" y2="68.3" stroke="#262626" stroke-width="1.1" />
<line x1="234.0" y1="68.3" x2="229.5" y2="68.3" stroke="#262626" stroke-width="1.1" />
<line x1="58.25" y1="175.0" x2="62.75" y2="175.0" stroke="#262626" stroke-width="1.1" />
<line x1="234.0" y1="175.0" x2="229.5" y2="175.0" stroke="#262626" stroke-width="1.1" />
<path d="M 336.0,36.35 L 336.0,176.45 L 512.0,176.45 L 512.0,36.35 Z" fill="none" stroke="#262626" stroke-width="1.15"/>
<line x1="337.8" y1="176.45" x2="337.8" y2="171.95" stroke="#262626" stroke-width="1.1" />
<line x1="359.375" y1="176.45" x2="359.375" y2="173.64999999999998" stroke="#262626" stroke-width="1.1" />
<line x1="380.95" y1="176.45" x2="380.95" y2="171.95" stroke="#262626" stroke-width="1.1" />
<line x1="402.525" y1="176.45" x2="402.525" y2="173.64999999999998" stroke="#262626" stroke-width="1.1" />
<line x1="424.1" y1="176.45" x2="424.1" y2="171.95" stroke="#262626" stroke-width="1.1" />
<line x1="445.675" y1="176.45" x2="445.675" y2="173.64999999999998" stroke="#262626" stroke-width="1.1" />
<line x1="467.25" y1="176.45" x2="467.25" y2="171.95" stroke="#262626" stroke-width="1.1" />
<line x1="488.82500000000005" y1="176.45" x2="488.82500000000005" y2="173.64999999999998" stroke="#262626" stroke-width="1.1" />
<line x1="510.4" y1="176.45" x2="510.4" y2="171.95" stroke="#262626" stroke-width="1.1" />
<line x1="499.4" y1="36.35" x2="499.4" y2="39.15" stroke="#262626" stroke-width="1.1" />
<line x1="479.68764705882353" y1="36.35" x2="479.68764705882353" y2="39.15" stroke="#262626" stroke-width="1.1" />
<line x1="462.16555555555556" y1="36.35" x2="462.16555555555556" y2="39.15" stroke="#262626" stroke-width="1.1" />
<line x1="446.4878947368421" y1="36.35" x2="446.4878947368421" y2="39.15" stroke="#262626" stroke-width="1.1" />
<line x1="432.378" y1="36.35" x2="432.378" y2="40.85" stroke="#262626" stroke-width="1.1" />
<line x1="419.6119047619048" y1="36.35" x2="419.6119047619048" y2="39.15" stroke="#262626" stroke-width="1.1" />
<line x1="408.00636363636363" y1="36.35" x2="408.00636363636363" y2="39.15" stroke="#262626" stroke-width="1.1" />
<line x1="397.41" y1="36.35" x2="397.41" y2="39.15" stroke="#262626" stroke-width="1.1" />
<line x1="387.6966666666667" y1="36.35" x2="387.6966666666667" y2="39.15" stroke="#262626" stroke-width="1.1" />
<line x1="378.7604" y1="36.35" x2="378.7604" y2="40.85" stroke="#262626" stroke-width="1.1" />
<line x1="370.51153846153846" y1="36.35" x2="370.51153846153846" y2="39.15" stroke="#262626" stroke-width="1.1" />
<line x1="362.8737037037037" y1="36.35" x2="362.8737037037037" y2="39.15" stroke="#262626" stroke-width="1.1" />
<line x1="355.7814285714286" y1="36.35" x2="355.7814285714286" y2="39.15" stroke="#262626" stroke-width="1.1" />
<line x1="349.178275862069" y1="36.35" x2="349.178275862069" y2="39.15" stroke="#262626" stroke-width="1.1" />
<line x1="343.01533333333333" y1="36.35" x2="343.01533333333333" y2="40.85" stroke="#262626" stroke-width="1.1" />
<line x1="336.0" y1="36.5" x2="340.5" y2="36.5" stroke="#262626" stroke-width="1.1" />
<line x1="512.0" y1="36.5" x2="507.5" y2="36.5" stroke="#262626" stroke-width="1.1" />
<line x1="336.0" y1="82.6" x2="340.5" y2="82.6" stroke="#262626" stroke-width="1.1" />
<line x1="512.0" y1="82.6" x2="507.5" y2="82.6" stroke="#262626" stroke-width="1.1" />
<line x1="336.0" y1="129.1" x2="340.5" y2="129.1" stroke="#262626" stroke-width="1.1" />
<line x1="512.0" y1="129.1" x2="507.5" y2="129.1" stroke="#262626" stroke-width="1.1" />
<line x1="336.0" y1="175.3" x2="340.5" y2="175.3" stroke="#262626" stroke-width="1.1" />
<line x1="512.0" y1="175.3" x2="507.5" y2="175.3" stroke="#262626" stroke-width="1.1" />
<path d="M 57.05,261.45 L 57.05,402.2 L 232.8,402.2 L 232.8,261.45 Z" fill="none" stroke="#262626" stroke-width="1.15"/>
<line x1="58.4" y1="402.2" x2="58.4" y2="397.7" stroke="#262626" stroke-width="1.1" />
<line x1="80.065" y1="402.2" x2="80.065" y2="399.4" stroke="#262626" stroke-width="1.1" />
<line x1="101.72999999999999" y1="402.2" x2="101.72999999999999" y2="397.7" stroke="#262626" stroke-width="1.1" />
<line x1="123.39500000000001" y1="402.2" x2="123.39500000000001" y2="399.4" stroke="#262626" stroke-width="1.1" />
<line x1="145.06" y1="402.2" x2="145.06" y2="397.7" stroke="#262626" stroke-width="1.1" />
<line x1="166.725" y1="402.2" x2="166.725" y2="399.4" stroke="#262626" stroke-width="1.1" />
<line x1="188.39000000000001" y1="402.2" x2="188.39000000000001" y2="397.7" stroke="#262626" stroke-width="1.1" />
<line x1="210.055" y1="402.2" x2="210.055" y2="399.4" stroke="#262626" stroke-width="1.1" />
<line x1="231.72" y1="402.2" x2="231.72" y2="397.7" stroke="#262626" stroke-width="1.1" />
<line x1="219.5875" y1="261.45" x2="219.5875" y2="264.25" stroke="#262626" stroke-width="1.1" />
<line x1="200.12588235294118" y1="261.45" x2="200.12588235294118" y2="264.25" stroke="#262626" stroke-width="1.1" />
<line x1="182.82666666666668" y1="261.45" x2="182.82666666666668" y2="264.25" stroke="#262626" stroke-width="1.1" />
<line x1="167.34842105263158" y1="261.45" x2="167.34842105263158" y2="264.25" stroke="#262626" stroke-width="1.1" />
<line x1="153.418" y1="261.45" x2="153.418" y2="265.95" stroke="#262626" stroke-width="1.1" />
<line x1="140.81428571428572" y1="261.45" x2="140.81428571428572" y2="264.25" stroke="#262626" stroke-width="1.1" />
<line x1="129.35636363636365" y1="261.45" x2="129.35636363636365" y2="264.25" stroke="#262626" stroke-width="1.1" />
<line x1="118.89478260869566" y1="261.45" x2="118.89478260869566" y2="264.25" stroke="#262626" stroke-width="1.1" />
<line x1="109.30500000000004" y1="261.45" x2="109.30500000000004" y2="264.25" stroke="#262626" stroke-width="1.1" />
<line x1="100.4824" y1="261.45" x2="100.4824" y2="265.95" stroke="#262626" stroke-width="1.1" />
<line x1="92.33846153846153" y1="261.45" x2="92.33846153846153" y2="264.25" stroke="#262626" stroke-width="1.1" />
<line x1="84.79777777777777" y1="261.45" x2="84.79777777777777" y2="264.25" stroke="#262626" stroke-width="1.1" />
<line x1="77.7957142857143" y1="261.45" x2="77.7957142857143" y2="264.25" stroke="#262626" stroke-width="1.1" />
<line x1="71.27655172413795" y1="261.45" x2="71.27655172413795" y2="264.25" stroke="#262626" stroke-width="1.1" />
<line x1="65.192" y1="261.45" x2="65.192" y2="265.95" stroke="#262626" stroke-width="1.1" />
<line x1="57.05" y1="401.9" x2="61.55" y2="401.9" stroke="#262626" stroke-width="1.1" />
<line x1="232.8" y1="401.9" x2="228.3" y2="401.9" stroke="#262626" stroke-width="1.1" />
<line x1="57.05" y1="381.9" x2="59.849999999999994" y2="381.9" stroke="#262626" stroke-width="1.1" />
<line x1="232.8" y1="381.9" x2="230.0" y2="381.9" stroke="#262626" stroke-width="1.1" />
<line x1="57.05" y1="361.9" x2="61.55" y2="361.9" stroke="#262626" stroke-width="1.1" />
<line x1="232.8" y1="361.9" x2="228.3" y2="361.9" stroke="#262626" stroke-width="1.1" />
<line x1="57.05" y1="341.9" x2="59.849999999999994" y2="341.9" stroke="#262626" stroke-width="1.1" />
<line x1="232.8" y1="341.9" x2="230.0" y2="341.9" stroke="#262626" stroke-width="1.1" />
<line x1="57.05" y1="321.9" x2="61.55" y2="321.9" stroke="#262626" stroke-width="1.1" />
<line x1="232.8" y1="321.9" x2="228.3" y2="321.9" stroke="#262626" stroke-width="1.1" />
<line x1="57.05" y1="301.9" x2="59.849999999999994" y2="301.9" stroke="#262626" stroke-width="1.1" />
<line x1="232.8" y1="301.9" x2="230.0" y2="301.9" stroke="#262626" stroke-width="1.1" />
<line x1="57.05" y1="281.9" x2="61.55" y2="281.9" stroke="#262626" stroke-width="1.1" />
<line x1="232.8" y1="281.9" x2="228.3" y2="281.9" stroke="#262626" stroke-width="1.1" />
<path d="M 336.05,264.35 L 336.05,405.35 L 511.9,405.35 L 511.9,264.35 Z" fill="none" stroke="#262626" stroke-width="1.15"/>
<line x1="337.4" y1="405.35" x2="337.4" y2="400.85" stroke="#262626" stroke-width="1.1" />
<line x1="359.0" y1="405.35" x2="359.0" y2="402.55" stroke="#262626" stroke-width="1.1" />
<line x1="380.59999999999997" y1="405.35" x2="380.59999999999997" y2="400.85" stroke="#262626" stroke-width="1.1" />
<line x1="402.2" y1="405.35" x2="402.2" y2="402.55" stroke="#262626" stroke-width="1.1" />
<line x1="423.79999999999995" y1="405.35" x2="423.79999999999995" y2="400.85" stroke="#262626" stroke-width="1.1" />
<line x1="445.4" y1="405.35" x2="445.4" y2="402.55" stroke="#262626" stroke-width="1.1" />
<line x1="467.0" y1="405.35" x2="467.0" y2="400.85" stroke="#262626" stroke-width="1.1" />
<line x1="488.59999999999997" y1="405.35" x2="488.59999999999997" y2="402.55" stroke="#262626" stroke-width="1.1" />
<line x1="510.2" y1="405.35" x2="510.2" y2="400.85" stroke="#262626" stroke-width="1.1" />
<line x1="498.32500000000005" y1="264.35" x2="498.32500000000005" y2="267.15000000000003" stroke="#262626" stroke-width="1.1" />
<line x1="478.7494117647059" y1="264.35" x2="478.7494117647059" y2="267.15000000000003" stroke="#262626" stroke-width="1.1" />
<line x1="461.3488888888889" y1="264.35" x2="461.3488888888889" y2="267.15000000000003" stroke="#262626" stroke-width="1.1" />
<line x1="445.78000000000003" y1="264.35" x2="445.78000000000003" y2="267.15000000000003" stroke="#262626" stroke-width="1.1" />
<line x1="431.76800000000003" y1="264.35" x2="431.76800000000003" y2="268.85" stroke="#262626" stroke-width="1.1" />
<line x1="419.09047619047624" y1="264.35" x2="419.09047619047624" y2="267.15000000000003" stroke="#262626" stroke-width="1.1" />
<line x1="407.56545454545454" y1="264.35" x2="407.56545454545454" y2="267.15000000000003" stroke="#262626" stroke-width="1.1" />
<line x1="397.04260869565223" y1="264.35" x2="397.04260869565223" y2="267.15000000000003" stroke="#262626" stroke-width="1.1" />
<line x1="387.3966666666667" y1="264.35" x2="387.3966666666667" y2="267.15000000000003" stroke="#262626" stroke-width="1.1" />
<line x1="378.5224" y1="264.35" x2="378.5224" y2="268.85" stroke="#262626" stroke-width="1.1" />
<line x1="370.33076923076925" y1="264.35" x2="370.33076923076925" y2="267.15000000000003" stroke="#262626" stroke-width="1.1" />
<line x1="362.7459259259259" y1="264.35" x2="362.7459259259259" y2="267.15000000000003" stroke="#262626" stroke-width="1.1" />
<line x1="355.70285714285717" y1="264.35" x2="355.70285714285717" y2="267.15000000000003" stroke="#262626" stroke-width="1.1" />
<line x1="349.1455172413793" y1="264.35" x2="349.1455172413793" y2="267.15000000000003" stroke="#262626" stroke-width="1.1" />
<line x1="343.0253333333333" y1="264.35" x2="343.0253333333333" y2="268.85" stroke="#262626" stroke-width="1.1" />
<line x1="336.05" y1="404.3" x2="340.55" y2="404.3" stroke="#262626" stroke-width="1.1" />
<line x1="511.9" y1="404.3" x2="507.4" y2="404.3" stroke="#262626" stroke-width="1.1" />
<line x1="336.05" y1="384.3" x2="338.85" y2="384.3" stroke="#262626" stroke-width="1.1" />
<line x1="511.9" y1="384.3" x2="509.09999999999997" y2="384.3" stroke="#262626" stroke-width="1.1" />
<line x1="336.05" y1="364.3" x2="340.55" y2="364.3" stroke="#262626" stroke-width="1.1" />
<line x1="511.9" y1="364.3" x2="507.4" y2="364.3" stroke="#262626" stroke-width="1.1" />
<line x1="336.05" y1="344.3" x2="338.85" y2="344.3" stroke="#262626" stroke-width="1.1" />
<line x1="511.9" y1="344.3" x2="509.09999999999997" y2="344.3" stroke="#262626" stroke-width="1.1" />
<line x1="336.05" y1="324.3" x2="340.55" y2="324.3" stroke="#262626" stroke-width="1.1" />
<line x1="511.9" y1="324.3" x2="507.4" y2="324.3" stroke="#262626" stroke-width="1.1" />
<line x1="336.05" y1="304.3" x2="338.85" y2="304.3" stroke="#262626" stroke-width="1.1" />
<line x1="511.9" y1="304.3" x2="509.09999999999997" y2="304.3" stroke="#262626" stroke-width="1.1" />
<line x1="336.05" y1="284.3" x2="340.55" y2="284.3" stroke="#262626" stroke-width="1.1" />
<line x1="511.9" y1="284.3" x2="507.4" y2="284.3" stroke="#262626" stroke-width="1.1" />
<rect x="168.0" y="44.2" width="103.6" height="31.0" fill="#fff" stroke="#4a4a4a" stroke-width="1.3"/>
<rect x="443.0" y="44.3" width="105.0" height="30.8" fill="#fff" stroke="#4a4a4a" stroke-width="1.3"/>
<rect x="167.7" y="268.4" width="104.5" height="30.6" fill="#fff" stroke="#4a4a4a" stroke-width="1.3"/>
<rect x="442.8" y="271.0" width="105.2" height="30.6" fill="#fff" stroke="#4a4a4a" stroke-width="1.3"/>
<line x1="170.3" y1="54.4" x2="188.9" y2="54.4" stroke="#1010ff" stroke-width="1.7" />
<line x1="170.3" y1="67.3" x2="186.5" y2="67.3" stroke="#111" stroke-width="1.7" stroke-dasharray="2.8 3.5"/>
<text x="192.1" y="60.0" font-size="13.3" text-anchor="start" fill="#111" stroke="#111" stroke-width="0" >Experimental</text>
<text x="192.3" y="71.8" font-size="13.3" text-anchor="start" fill="#111" stroke="#111" stroke-width="0" >Fit</text>
<line x1="445.8" y1="54.4" x2="464.0" y2="54.4" stroke="#ff0000" stroke-width="1.7" />
<line x1="445.6" y1="67.3" x2="461.5" y2="67.3" stroke="#111" stroke-width="1.7" stroke-dasharray="2.8 3.5"/>
<text x="467.6" y="59.9" font-size="13.3" text-anchor="start" fill="#111" stroke="#111" stroke-width="0" >Experimental</text>
<text x="467.8" y="71.7" font-size="13.3" text-anchor="start" fill="#111" stroke="#111" stroke-width="0" >Fit</text>
<line x1="169.0" y1="276.0" x2="186.8" y2="276.0" stroke="#0b0d40" stroke-width="1.7" />
<circle cx="171.3" cy="292.3" r="1.3" fill="none" stroke="#b0b0b0" stroke-width="1"/>
<circle cx="177.6" cy="292.3" r="1.3" fill="none" stroke="#b0b0b0" stroke-width="1"/>
<circle cx="183.7" cy="292.3" r="1.3" fill="none" stroke="#b0b0b0" stroke-width="1"/>
<text x="192.6" y="281.5" font-size="13.3" text-anchor="start" fill="#111" stroke="#111" stroke-width="0" >Experimental</text>
<text x="192.7" y="297.1" font-size="13.3" text-anchor="start" fill="#111" stroke="#111" stroke-width="0" >Fit</text>
<line x1="443.9" y1="279.9" x2="462.1" y2="279.9" stroke="#faf200" stroke-width="2.0" />
<line x1="445.7" y1="295.2" x2="461.5" y2="295.2" stroke="#111" stroke-width="1.7" stroke-dasharray="2.8 3.5"/>
<text x="467.2" y="285.1" font-size="13.3" text-anchor="start" fill="#111" stroke="#111" stroke-width="0" >Experimental</text>
<text x="467.3" y="300.2" font-size="13.3" text-anchor="start" fill="#111" stroke="#111" stroke-width="0" >Fit</text>
<text x="7.0" y="11.8" font-size="13.3" text-anchor="start" fill="#111" stroke="#111" stroke-width="0" >(a)</text>
<text x="283.4" y="11.8" font-size="13.3" text-anchor="start" fill="#111" stroke="#111" stroke-width="0" >(b)</text>
<text x="7.3" y="240.8" font-size="13.3" text-anchor="start" fill="#111" stroke="#111" stroke-width="0" >(c)</text>
<text x="283.4" y="240.8" font-size="13.3" text-anchor="start" fill="#111" stroke="#111" stroke-width="0" >(d)</text>
<text x="156.95" y="13.1" font-size="13.3" text-anchor="middle" fill="#111" stroke="#111" stroke-width="0" >Energy (eV)</text>
<text x="434.5" y="13.1" font-size="13.3" text-anchor="middle" fill="#111" stroke="#111" stroke-width="0" >Energy (eV)</text>
<text x="156.9" y="238.9" font-size="13.3" text-anchor="middle" fill="#111" stroke="#111" stroke-width="0" >Energy (eV)</text>
<text x="436.0" y="242.4" font-size="13.3" text-anchor="middle" fill="#111" stroke="#111" stroke-width="0" >Energy (eV)</text>
<text x="65.37" y="30.98" font-size="13.3" text-anchor="middle" fill="#111" stroke="#111" stroke-width="0" >3.0</text>
<text x="100.24" y="30.98" font-size="13.3" text-anchor="middle" fill="#111" stroke="#111" stroke-width="0" >2.5</text>
<text x="153.87" y="30.98" font-size="13.3" text-anchor="middle" fill="#111" stroke="#111" stroke-width="0" >2.0</text>
<text x="222.0" y="30.98" font-size="13.3" text-anchor="middle" fill="#111" stroke="#111" stroke-width="0" >1.6</text>
<text x="343.01" y="31.26" font-size="13.3" text-anchor="middle" fill="#111" stroke="#111" stroke-width="0" >3.0</text>
<text x="378.25" y="31.26" font-size="13.3" text-anchor="middle" fill="#111" stroke="#111" stroke-width="0" >2.5</text>
<text x="430.99" y="31.26" font-size="13.3" text-anchor="middle" fill="#111" stroke="#111" stroke-width="0" >2.0</text>
<text x="499.0" y="31.26" font-size="13.3" text-anchor="middle" fill="#111" stroke="#111" stroke-width="0" >1.6</text>
<text x="65.37" y="257.0" font-size="13.3" text-anchor="middle" fill="#111" stroke="#111" stroke-width="0" >3.0</text>
<text x="100.24" y="257.0" font-size="13.3" text-anchor="middle" fill="#111" stroke="#111" stroke-width="0" >2.5</text>
<text x="153.87" y="257.0" font-size="13.3" text-anchor="middle" fill="#111" stroke="#111" stroke-width="0" >2.0</text>
<text x="222.5" y="256.48" font-size="13.3" text-anchor="middle" fill="#111" stroke="#111" stroke-width="0" >1.6</text>
<text x="344.12" y="260.0" font-size="13.3" text-anchor="middle" fill="#111" stroke="#111" stroke-width="0" >3.0</text>
<text x="379.87" y="260.0" font-size="13.3" text-anchor="middle" fill="#111" stroke="#111" stroke-width="0" >2.5</text>
<text x="433.0" y="260.0" font-size="13.3" text-anchor="middle" fill="#111" stroke="#111" stroke-width="0" >2.0</text>
<text x="500.85" y="259.76" font-size="13.3" text-anchor="middle" fill="#111" stroke="#111" stroke-width="0" >1.6</text>
<text x="61.02" y="192.52" font-size="13.3" text-anchor="middle" fill="#111" stroke="#111" stroke-width="0" >400</text>
<text x="103.12" y="192.52" font-size="13.3" text-anchor="middle" fill="#111" stroke="#111" stroke-width="0" >500</text>
<text x="146.13" y="192.52" font-size="13.3" text-anchor="middle" fill="#111" stroke="#111" stroke-width="0" >600</text>
<text x="188.5" y="192.52" font-size="13.3" text-anchor="middle" fill="#111" stroke="#111" stroke-width="0" >700</text>
<text x="230.48" y="192.52" font-size="13.3" text-anchor="middle" fill="#111" stroke="#111" stroke-width="0" >800</text>
<text x="341.02" y="190.48" font-size="13.3" text-anchor="middle" fill="#111" stroke="#111" stroke-width="0" >400</text>
<text x="382.98" y="190.48" font-size="13.3" text-anchor="middle" fill="#111" stroke="#111" stroke-width="0" >500</text>
<text x="424.85" y="190.48" font-size="13.3" text-anchor="middle" fill="#111" stroke="#111" stroke-width="0" >600</text>
<text x="468.35" y="190.48" font-size="13.3" text-anchor="middle" fill="#111" stroke="#111" stroke-width="0" >700</text>
<text x="510.63" y="190.48" font-size="13.3" text-anchor="middle" fill="#111" stroke="#111" stroke-width="0" >800</text>
<text x="60.01" y="421.24" font-size="13.3" text-anchor="middle" fill="#111" stroke="#111" stroke-width="0" >400</text>
<text x="102.5" y="421.24" font-size="13.3" text-anchor="middle" fill="#111" stroke="#111" stroke-width="0" >500</text>
<text x="144.75" y="421.24" font-size="13.3" text-anchor="middle" fill="#111" stroke="#111" stroke-width="0" >600</text>
<text x="186.85" y="421.24" font-size="13.3" text-anchor="middle" fill="#111" stroke="#111" stroke-width="0" >700</text>
<text x="229.74" y="421.24" font-size="13.3" text-anchor="middle" fill="#111" stroke="#111" stroke-width="0" >800</text>
<text x="340.01" y="424.02" font-size="13.3" text-anchor="middle" fill="#111" stroke="#111" stroke-width="0" >400</text>
<text x="382.5" y="424.02" font-size="13.3" text-anchor="middle" fill="#111" stroke="#111" stroke-width="0" >500</text>
<text x="424.75" y="424.02" font-size="13.3" text-anchor="middle" fill="#111" stroke="#111" stroke-width="0" >600</text>
<text x="466.85" y="424.02" font-size="13.3" text-anchor="middle" fill="#111" stroke="#111" stroke-width="0" >700</text>
<text x="509.74" y="424.02" font-size="13.3" text-anchor="middle" fill="#111" stroke="#111" stroke-width="0" >800</text>
<text x="42.99" y="72.76" font-size="13.3" text-anchor="middle" fill="#111" stroke="#111" stroke-width="0" >0.1</text>
<text x="48.64" y="175.98" font-size="13.3" text-anchor="middle" fill="#111" stroke="#111" stroke-width="0" >0</text>
<text x="323.99" y="43.0" font-size="13.3" text-anchor="middle" fill="#111" stroke="#111" stroke-width="0" >0.3</text>
<text x="323.99" y="86.5" font-size="13.3" text-anchor="middle" fill="#111" stroke="#111" stroke-width="0" >0.2</text>
<text x="323.99" y="131.48" font-size="13.3" text-anchor="middle" fill="#111" stroke="#111" stroke-width="0" >0.1</text>
<text x="329.26" y="175.02" font-size="13.3" text-anchor="middle" fill="#111" stroke="#111" stroke-width="0" >0</text>
<text x="40.87" y="287.74" font-size="13.3" text-anchor="middle" fill="#111" stroke="#111" stroke-width="0" >0.3</text>
<text x="41.13" y="326.48" font-size="13.3" text-anchor="middle" fill="#111" stroke="#111" stroke-width="0" >0.2</text>
<text x="40.87" y="366.24" font-size="13.3" text-anchor="middle" fill="#111" stroke="#111" stroke-width="0" >0.1</text>
<text x="45.74" y="402.5" font-size="13.3" text-anchor="middle" fill="#111" stroke="#111" stroke-width="0" >0</text>
<text x="322.74" y="291.0" font-size="13.3" text-anchor="middle" fill="#111" stroke="#111" stroke-width="0" >0.3</text>
<text x="322.88" y="329.48" font-size="13.3" text-anchor="middle" fill="#111" stroke="#111" stroke-width="0" >0.2</text>
<text x="322.62" y="369.76" font-size="13.3" text-anchor="middle" fill="#111" stroke="#111" stroke-width="0" >0.1</text>
<text x="328.37" y="405.5" font-size="13.3" text-anchor="middle" fill="#111" stroke="#111" stroke-width="0" >0</text>
<text x="160.0" y="206.5" font-size="13.3" text-anchor="middle" fill="#111" stroke="#111" stroke-width="0" >Wavelength (nm)</text>
<text x="439.8" y="204.9" font-size="13.3" text-anchor="middle" fill="#111" stroke="#111" stroke-width="0" >Wavelength (nm)</text>
<text x="159.2" y="434.8" font-size="13.3" text-anchor="middle" fill="#111" stroke="#111" stroke-width="0" >Wavelength (nm)</text>
<text x="439.2" y="438.1" font-size="13.3" text-anchor="middle" fill="#111" stroke="#111" stroke-width="0" >Wavelength (nm)</text>
<text x="0" y="0" font-size="13.3" text-anchor="middle" fill="#111" transform="translate(20.1,104.9) rotate(-90)">Absorbance</text>
<text x="0" y="0" font-size="13.3" text-anchor="middle" fill="#111" transform="translate(296.1,104.4) rotate(-90)">Absorbance</text>
<text x="0" y="0" font-size="13.3" text-anchor="middle" fill="#111" transform="translate(14.0,331.4) rotate(-90)">Absorbance</text>
<text x="0" y="0" font-size="13.3" text-anchor="middle" fill="#111" transform="translate(296.1,334.4) rotate(-90)">Absorbance</text>
<text x="78.5" y="292.0" font-size="13.3" fill="#111"><tspan font-style="italic">T</tspan>=75 K</text>
<text x="359.9" y="291.9" font-size="13.3" fill="#111"><tspan font-style="italic">T</tspan>=350 K</text>
<text x="108.7" y="353.3" font-size="13.3" fill="#1e1ef5" stroke="#1e1ef5" stroke-width="0.45">x10</text>
<text x="402.0" y="353.8" font-size="13.3" fill="#1e1ef5" stroke="#1e1ef5" stroke-width="0.45">x10</text>
</g></svg>
</body></html>
